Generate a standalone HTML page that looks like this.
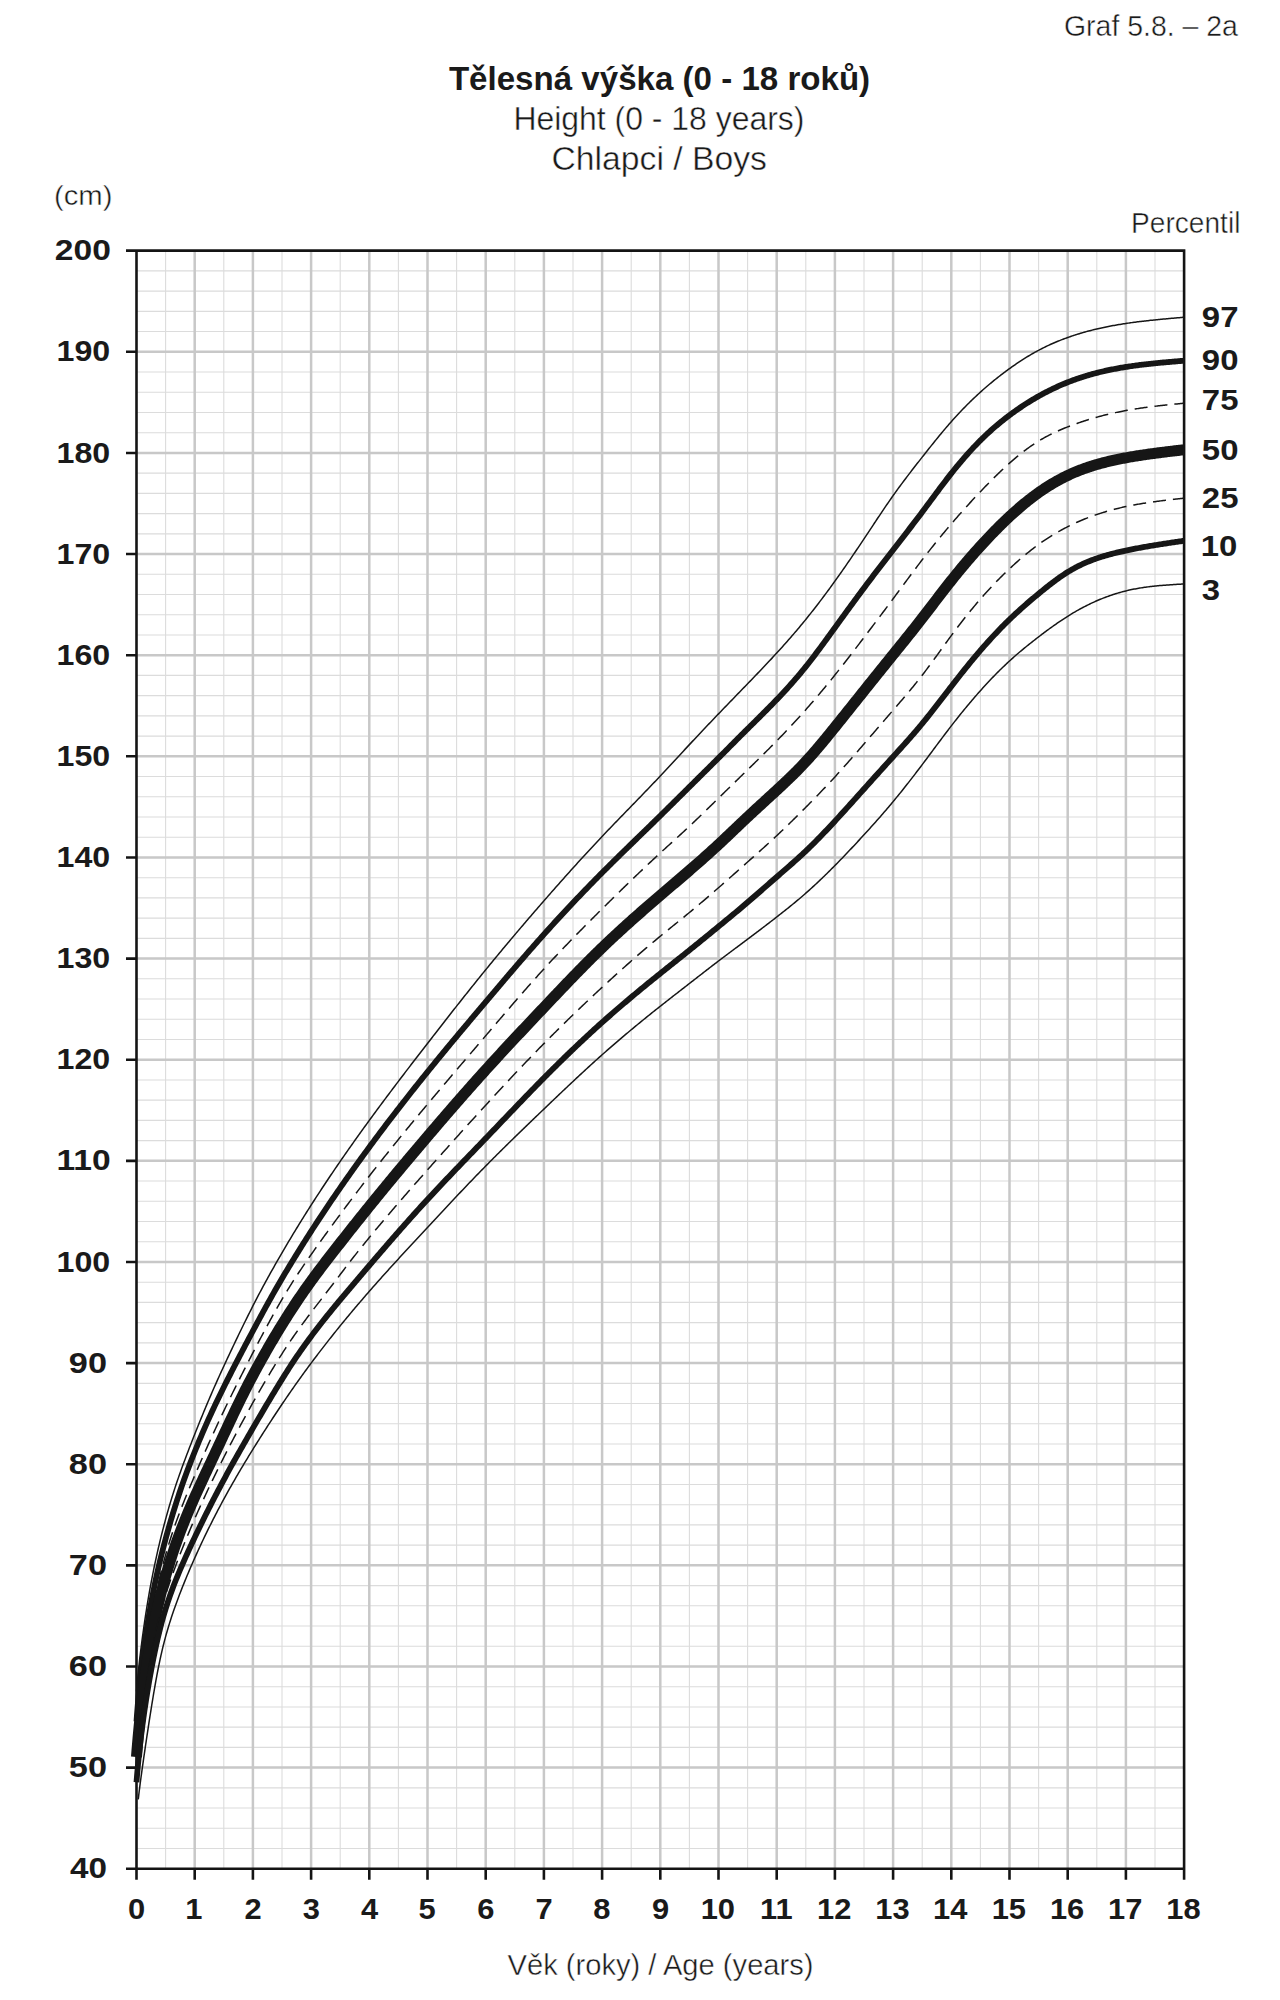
<!DOCTYPE html>
<html><head><meta charset="utf-8"><style>
html,body{margin:0;padding:0;background:#fff;}
body{width:1280px;height:2000px;overflow:hidden;font-family:"Liberation Sans",sans-serif;}
svg{display:block;}
</style></head><body>
<svg width="1280" height="2000" viewBox="0 0 1280 2000">
<rect width="1280" height="2000" fill="#fff"/>
<path d="M165.60 250.67V1868.75M223.80 250.67V1868.75M282.00 250.67V1868.75M340.20 250.67V1868.75M398.40 250.67V1868.75M456.60 250.67V1868.75M514.80 250.67V1868.75M573.00 250.67V1868.75M631.20 250.67V1868.75M689.40 250.67V1868.75M747.60 250.67V1868.75M805.80 250.67V1868.75M864.00 250.67V1868.75M922.20 250.67V1868.75M980.40 250.67V1868.75M1038.60 250.67V1868.75M1096.80 250.67V1868.75M1155.00 250.67V1868.75M136.50 1848.52H1184.10M136.50 1828.30H1184.10M136.50 1808.07H1184.10M136.50 1787.85H1184.10M136.50 1747.39H1184.10M136.50 1727.17H1184.10M136.50 1706.94H1184.10M136.50 1686.72H1184.10M136.50 1646.26H1184.10M136.50 1626.04H1184.10M136.50 1605.81H1184.10M136.50 1585.59H1184.10M136.50 1545.13H1184.10M136.50 1524.91H1184.10M136.50 1504.68H1184.10M136.50 1484.46H1184.10M136.50 1444.00H1184.10M136.50 1423.78H1184.10M136.50 1403.55H1184.10M136.50 1383.33H1184.10M136.50 1342.87H1184.10M136.50 1322.65H1184.10M136.50 1302.42H1184.10M136.50 1282.20H1184.10M136.50 1241.74H1184.10M136.50 1221.52H1184.10M136.50 1201.29H1184.10M136.50 1181.07H1184.10M136.50 1140.61H1184.10M136.50 1120.39H1184.10M136.50 1100.16H1184.10M136.50 1079.94H1184.10M136.50 1039.48H1184.10M136.50 1019.26H1184.10M136.50 999.03H1184.10M136.50 978.81H1184.10M136.50 938.35H1184.10M136.50 918.13H1184.10M136.50 897.90H1184.10M136.50 877.68H1184.10M136.50 837.22H1184.10M136.50 817.00H1184.10M136.50 796.77H1184.10M136.50 776.55H1184.10M136.50 736.09H1184.10M136.50 715.87H1184.10M136.50 695.64H1184.10M136.50 675.42H1184.10M136.50 634.96H1184.10M136.50 614.74H1184.10M136.50 594.51H1184.10M136.50 574.29H1184.10M136.50 533.83H1184.10M136.50 513.61H1184.10M136.50 493.38H1184.10M136.50 473.16H1184.10M136.50 432.70H1184.10M136.50 412.48H1184.10M136.50 392.25H1184.10M136.50 372.03H1184.10M136.50 331.57H1184.10M136.50 311.35H1184.10M136.50 291.12H1184.10M136.50 270.90H1184.10" stroke="#dcdcdc" stroke-width="1.1" fill="none"/>
<path d="M194.70 250.67V1868.75M252.90 250.67V1868.75M311.10 250.67V1868.75M369.30 250.67V1868.75M427.50 250.67V1868.75M485.70 250.67V1868.75M543.90 250.67V1868.75M602.10 250.67V1868.75M660.30 250.67V1868.75M718.50 250.67V1868.75M776.70 250.67V1868.75M834.90 250.67V1868.75M893.10 250.67V1868.75M951.30 250.67V1868.75M1009.50 250.67V1868.75M1067.70 250.67V1868.75M1125.90 250.67V1868.75M136.50 1767.62H1184.10M136.50 1666.49H1184.10M136.50 1565.36H1184.10M136.50 1464.23H1184.10M136.50 1363.10H1184.10M136.50 1261.97H1184.10M136.50 1160.84H1184.10M136.50 1059.71H1184.10M136.50 958.58H1184.10M136.50 857.45H1184.10M136.50 756.32H1184.10M136.50 655.19H1184.10M136.50 554.06H1184.10M136.50 452.93H1184.10M136.50 351.80H1184.10" stroke="#c8c8c8" stroke-width="2.5" fill="none"/>
<path d="M126.00 250.67H1185.30M126.00 1868.75H1185.30M136.50 249.47V1869.95M1184.10 249.47V1869.95M126.00 1767.62H136.50M126.00 1666.49H136.50M126.00 1565.36H136.50M126.00 1464.23H136.50M126.00 1363.10H136.50M126.00 1261.97H136.50M126.00 1160.84H136.50M126.00 1059.71H136.50M126.00 958.58H136.50M126.00 857.45H136.50M126.00 756.32H136.50M126.00 655.19H136.50M126.00 554.06H136.50M126.00 452.93H136.50M126.00 351.80H136.50M136.50 1868.75V1879.75M194.70 1868.75V1879.75M252.90 1868.75V1879.75M311.10 1868.75V1879.75M369.30 1868.75V1879.75M427.50 1868.75V1879.75M485.70 1868.75V1879.75M543.90 1868.75V1879.75M602.10 1868.75V1879.75M660.30 1868.75V1879.75M718.50 1868.75V1879.75M776.70 1868.75V1879.75M834.90 1868.75V1879.75M893.10 1868.75V1879.75M951.30 1868.75V1879.75M1009.50 1868.75V1879.75M1067.70 1868.75V1879.75M1125.90 1868.75V1879.75M1184.10 1868.75V1879.75" stroke="#141414" stroke-width="2.6" fill="none"/>
<g fill="none" stroke="#161616" stroke-linejoin="round">
<path d="M136.50,1691.34 L136.99,1685.48 L137.49,1680.05 L137.98,1674.97 L138.47,1670.16 L138.97,1665.57 L139.46,1661.17 L139.95,1656.94 L140.45,1652.83 L140.94,1648.85 L141.43,1644.97 L141.93,1641.17 L142.42,1637.46 L142.91,1633.82 L143.41,1630.25 L143.90,1626.76 L144.39,1623.33 L144.88,1619.97 L145.38,1616.68 L145.87,1613.45 L146.36,1610.28 L146.86,1607.17 L147.35,1604.12 L147.84,1601.13 L148.34,1598.20 L148.83,1595.32 L149.32,1592.49 L149.82,1589.72 L150.31,1586.99 L150.80,1584.32 L151.30,1581.69 L151.79,1579.10 L152.28,1576.56 L152.78,1574.05 L153.27,1571.59 L153.76,1569.16 L154.26,1566.77 L154.75,1564.42 L155.24,1562.09 L155.74,1559.80 L156.23,1557.54 L156.72,1555.31 L157.22,1553.11 L157.71,1550.93 L158.20,1548.78 L158.69,1546.66 L159.19,1544.56 L159.68,1542.48 L160.17,1540.43 L160.67,1538.40 L161.16,1536.40 L161.65,1534.41 L162.15,1532.45 L162.64,1530.51 L163.13,1528.59 L163.63,1526.69 L164.12,1524.81 L164.61,1522.94 L165.11,1521.10 L165.60,1519.28 L166.18,1517.15 L167.28,1513.20 L168.38,1509.35 L169.48,1505.57 L170.57,1501.88 L171.67,1498.27 L172.77,1494.73 L173.87,1491.27 L174.96,1487.88 L176.06,1484.56 L177.16,1481.31 L178.26,1478.12 L179.35,1474.98 L180.45,1471.89 L181.55,1468.84 L182.65,1465.83 L183.75,1462.85 L184.84,1459.90 L185.94,1456.97 L187.04,1454.07 L188.14,1451.19 L189.23,1448.33 L190.33,1445.48 L191.43,1442.65 L192.53,1439.84 L193.62,1437.04 L194.72,1434.26 L195.82,1431.49 L196.92,1428.73 L198.02,1425.99 L199.11,1423.27 L200.21,1420.56 L201.31,1417.87 L202.41,1415.19 L203.50,1412.53 L204.60,1409.89 L205.70,1407.26 L206.80,1404.64 L207.89,1402.05 L208.99,1399.47 L210.09,1396.90 L211.19,1394.35 L212.29,1391.82 L213.38,1389.31 L214.48,1386.81 L215.58,1384.33 L216.68,1381.87 L217.77,1379.42 L218.87,1376.98 L219.97,1374.56 L221.07,1372.16 L222.16,1369.76 L223.26,1367.38 L224.36,1365.00 L225.46,1362.63 L226.56,1360.27 L227.65,1357.92 L228.75,1355.57 L229.85,1353.24 L230.95,1350.91 L232.04,1348.58 L233.14,1346.27 L234.24,1343.96 L235.34,1341.65 L236.43,1339.36 L237.53,1337.07 L238.63,1334.79 L239.73,1332.52 L240.83,1330.25 L241.92,1328.00 L243.02,1325.75 L244.12,1323.51 L245.22,1321.29 L246.31,1319.07 L247.41,1316.86 L248.51,1314.66 L249.61,1312.47 L250.70,1310.29 L251.80,1308.12 L252.90,1305.96 L254.06,1303.68 L255.23,1301.42 L256.39,1299.17 L257.56,1296.93 L258.72,1294.71 L259.88,1292.50 L261.05,1290.30 L262.21,1288.12 L263.38,1285.95 L264.54,1283.79 L265.70,1281.66 L266.87,1279.53 L268.03,1277.42 L269.20,1275.32 L270.36,1273.23 L271.52,1271.16 L272.69,1269.09 L273.85,1267.04 L275.02,1264.99 L276.18,1262.95 L277.34,1260.92 L278.51,1258.89 L279.67,1256.87 L280.84,1254.86 L282.00,1252.86 L283.16,1250.86 L284.33,1248.87 L285.49,1246.89 L286.66,1244.91 L287.82,1242.95 L288.98,1240.99 L290.15,1239.04 L291.31,1237.09 L292.48,1235.16 L293.64,1233.23 L294.80,1231.31 L295.97,1229.39 L297.13,1227.49 L298.30,1225.59 L299.46,1223.70 L300.62,1221.82 L301.79,1219.94 L302.95,1218.07 L304.12,1216.21 L305.28,1214.35 L306.44,1212.50 L307.61,1210.66 L308.77,1208.82 L309.94,1206.99 L311.10,1205.16 L312.26,1203.34 L313.43,1201.53 L314.59,1199.73 L315.76,1197.93 L316.92,1196.13 L318.08,1194.34 L319.25,1192.56 L320.41,1190.79 L321.58,1189.01 L322.74,1187.25 L323.90,1185.49 L325.07,1183.73 L326.23,1181.98 L327.40,1180.24 L328.56,1178.50 L329.72,1176.77 L330.89,1175.04 L332.05,1173.31 L333.22,1171.59 L334.38,1169.88 L335.54,1168.17 L336.71,1166.46 L337.87,1164.76 L339.04,1163.07 L340.20,1161.38 L341.36,1159.69 L342.53,1158.01 L343.69,1156.33 L344.86,1154.66 L346.02,1152.99 L347.18,1151.32 L348.35,1149.66 L349.51,1148.00 L350.68,1146.35 L351.84,1144.70 L353.00,1143.06 L354.17,1141.41 L355.33,1139.78 L356.50,1138.14 L357.66,1136.51 L358.82,1134.89 L359.99,1133.26 L361.15,1131.64 L362.32,1130.03 L363.48,1128.41 L364.64,1126.80 L365.81,1125.20 L366.97,1123.60 L368.14,1122.00 L369.30,1120.40 L370.46,1118.81 L371.63,1117.21 L372.79,1115.63 L373.96,1114.04 L375.12,1112.46 L376.28,1110.88 L377.45,1109.31 L378.61,1107.73 L379.78,1106.16 L380.94,1104.59 L382.10,1103.03 L383.27,1101.47 L384.43,1099.90 L385.60,1098.35 L386.76,1096.79 L387.92,1095.24 L389.09,1093.69 L390.25,1092.14 L391.42,1090.59 L392.58,1089.04 L393.74,1087.50 L394.91,1085.96 L396.07,1084.42 L397.24,1082.88 L398.40,1081.35 L399.56,1079.81 L400.73,1078.28 L401.89,1076.75 L403.06,1075.22 L404.22,1073.70 L405.38,1072.17 L406.55,1070.65 L407.71,1069.13 L408.88,1067.61 L410.04,1066.09 L411.20,1064.57 L412.37,1063.05 L413.53,1061.53 L414.70,1060.02 L415.86,1058.51 L417.02,1056.99 L418.19,1055.48 L419.35,1053.97 L420.52,1052.46 L421.68,1050.96 L422.84,1049.45 L424.01,1047.94 L425.17,1046.44 L426.34,1044.93 L427.50,1043.43 L428.66,1041.92 L429.83,1040.42 L430.99,1038.92 L432.16,1037.42 L433.32,1035.91 L434.48,1034.42 L435.65,1032.92 L436.81,1031.42 L437.98,1029.92 L439.14,1028.43 L440.30,1026.93 L441.47,1025.44 L442.63,1023.94 L443.80,1022.45 L444.96,1020.96 L446.12,1019.47 L447.29,1017.98 L448.45,1016.50 L449.62,1015.01 L450.78,1013.53 L451.94,1012.04 L453.11,1010.56 L454.27,1009.08 L455.44,1007.60 L456.60,1006.13 L457.76,1004.65 L458.93,1003.18 L460.09,1001.71 L461.26,1000.23 L462.42,998.77 L463.58,997.30 L464.75,995.83 L465.91,994.37 L467.08,992.91 L468.24,991.45 L469.40,989.99 L470.57,988.53 L471.73,987.08 L472.90,985.62 L474.06,984.17 L475.22,982.72 L476.39,981.28 L477.55,979.83 L478.72,978.39 L479.88,976.95 L481.04,975.51 L482.21,974.07 L483.37,972.64 L484.54,971.21 L485.70,969.78 L486.86,968.35 L488.03,966.93 L489.19,965.50 L490.36,964.08 L491.52,962.67 L492.68,961.25 L493.85,959.84 L495.01,958.42 L496.18,957.01 L497.34,955.61 L498.50,954.20 L499.67,952.80 L500.83,951.40 L502.00,950.00 L503.16,948.60 L504.32,947.21 L505.49,945.81 L506.65,944.42 L507.82,943.03 L508.98,941.65 L510.14,940.26 L511.31,938.88 L512.47,937.50 L513.64,936.12 L514.80,934.74 L515.96,933.37 L517.13,931.99 L518.29,930.62 L519.46,929.25 L520.62,927.88 L521.78,926.52 L522.95,925.15 L524.11,923.79 L525.28,922.43 L526.44,921.07 L527.60,919.71 L528.77,918.35 L529.93,917.00 L531.10,915.65 L532.26,914.29 L533.42,912.94 L534.59,911.60 L535.75,910.25 L536.92,908.90 L538.08,907.56 L539.24,906.22 L540.41,904.88 L541.57,903.54 L542.74,902.20 L543.90,900.87 L545.06,899.53 L546.23,898.20 L547.39,896.87 L548.56,895.54 L549.72,894.21 L550.88,892.88 L552.05,891.56 L553.21,890.23 L554.38,888.91 L555.54,887.59 L556.70,886.27 L557.87,884.95 L559.03,883.64 L560.20,882.33 L561.36,881.01 L562.52,879.70 L563.69,878.40 L564.85,877.09 L566.02,875.79 L567.18,874.49 L568.34,873.19 L569.51,871.89 L570.67,870.59 L571.84,869.30 L573.00,868.01 L574.16,866.72 L575.33,865.43 L576.49,864.14 L577.66,862.86 L578.82,861.58 L579.98,860.30 L581.15,859.02 L582.31,857.75 L583.48,856.48 L584.64,855.21 L585.80,853.94 L586.97,852.68 L588.13,851.42 L589.30,850.16 L590.46,848.90 L591.62,847.64 L592.79,846.39 L593.95,845.14 L595.12,843.90 L596.28,842.65 L597.44,841.41 L598.61,840.17 L599.77,838.93 L600.94,837.70 L602.10,836.47 L603.26,835.24 L604.43,834.01 L605.59,832.79 L606.76,831.57 L607.92,830.35 L609.08,829.14 L610.25,827.92 L611.41,826.71 L612.58,825.50 L613.74,824.29 L614.90,823.08 L616.07,821.88 L617.23,820.67 L618.40,819.47 L619.56,818.27 L620.72,817.06 L621.89,815.86 L623.05,814.66 L624.22,813.46 L625.38,812.27 L626.54,811.07 L627.71,809.87 L628.87,808.67 L630.04,807.47 L631.20,806.27 L632.36,805.08 L633.53,803.88 L634.69,802.68 L635.86,801.48 L637.02,800.28 L638.18,799.08 L639.35,797.88 L640.51,796.67 L641.68,795.47 L642.84,794.27 L644.00,793.06 L645.17,791.85 L646.33,790.64 L647.50,789.43 L648.66,788.22 L649.82,787.00 L650.99,785.79 L652.15,784.57 L653.32,783.35 L654.48,782.13 L655.64,780.90 L656.81,779.67 L657.97,778.44 L659.14,777.21 L660.30,775.97 L661.46,774.73 L662.63,773.49 L663.79,772.25 L664.96,771.00 L666.12,769.75 L667.28,768.50 L668.45,767.25 L669.61,765.99 L670.78,764.74 L671.94,763.48 L673.10,762.22 L674.27,760.96 L675.43,759.70 L676.60,758.44 L677.76,757.18 L678.92,755.92 L680.09,754.66 L681.25,753.41 L682.42,752.15 L683.58,750.89 L684.74,749.63 L685.91,748.38 L687.07,747.12 L688.24,745.87 L689.40,744.62 L690.56,743.37 L691.73,742.12 L692.89,740.88 L694.06,739.64 L695.22,738.39 L696.38,737.16 L697.55,735.92 L698.71,734.68 L699.88,733.45 L701.04,732.21 L702.20,730.98 L703.37,729.75 L704.53,728.52 L705.70,727.30 L706.86,726.07 L708.02,724.85 L709.19,723.63 L710.35,722.41 L711.52,721.19 L712.68,719.97 L713.84,718.75 L715.01,717.53 L716.17,716.32 L717.34,715.10 L718.50,713.89 L719.66,712.68 L720.83,711.47 L721.99,710.26 L723.16,709.05 L724.32,707.84 L725.48,706.64 L726.65,705.43 L727.81,704.22 L728.98,703.02 L730.14,701.81 L731.30,700.61 L732.47,699.40 L733.63,698.20 L734.80,697.00 L735.96,695.80 L737.12,694.59 L738.29,693.39 L739.45,692.19 L740.62,690.98 L741.78,689.78 L742.94,688.58 L744.11,687.38 L745.27,686.17 L746.44,684.97 L747.60,683.77 L748.76,682.56 L749.93,681.36 L751.09,680.15 L752.26,678.94 L753.42,677.74 L754.58,676.53 L755.75,675.32 L756.91,674.11 L758.08,672.89 L759.24,671.68 L760.40,670.46 L761.57,669.24 L762.73,668.01 L763.90,666.79 L765.06,665.56 L766.22,664.33 L767.39,663.09 L768.55,661.85 L769.72,660.61 L770.88,659.37 L772.04,658.12 L773.21,656.86 L774.37,655.60 L775.54,654.34 L776.70,653.07 L777.86,651.80 L779.03,650.52 L780.19,649.23 L781.36,647.95 L782.52,646.65 L783.68,645.35 L784.85,644.05 L786.01,642.74 L787.18,641.42 L788.34,640.09 L789.50,638.77 L790.67,637.43 L791.83,636.09 L793.00,634.74 L794.16,633.38 L795.32,632.02 L796.49,630.65 L797.65,629.27 L798.82,627.89 L799.98,626.50 L801.14,625.10 L802.31,623.69 L803.47,622.28 L804.64,620.86 L805.80,619.43 L806.96,617.99 L808.13,616.54 L809.29,615.09 L810.46,613.63 L811.62,612.16 L812.78,610.68 L813.95,609.19 L815.11,607.70 L816.28,606.20 L817.44,604.69 L818.60,603.17 L819.77,601.65 L820.93,600.12 L822.10,598.58 L823.26,597.03 L824.42,595.48 L825.59,593.92 L826.75,592.35 L827.92,590.77 L829.08,589.19 L830.24,587.60 L831.41,586.00 L832.57,584.40 L833.74,582.79 L834.90,581.17 L836.06,579.54 L837.23,577.91 L838.39,576.28 L839.56,574.63 L840.72,572.98 L841.88,571.32 L843.05,569.66 L844.21,567.99 L845.38,566.32 L846.54,564.64 L847.70,562.95 L848.87,561.26 L850.03,559.56 L851.20,557.86 L852.36,556.15 L853.52,554.44 L854.69,552.73 L855.85,551.01 L857.02,549.28 L858.18,547.55 L859.34,545.82 L860.51,544.08 L861.67,542.34 L862.84,540.60 L864.00,538.85 L865.16,537.10 L866.33,535.35 L867.49,533.59 L868.66,531.83 L869.82,530.07 L870.98,528.31 L872.15,526.55 L873.31,524.80 L874.48,523.04 L875.64,521.29 L876.80,519.53 L877.97,517.79 L879.13,516.04 L880.30,514.30 L881.46,512.57 L882.62,510.84 L883.79,509.12 L884.95,507.40 L886.12,505.69 L887.28,503.99 L888.44,502.30 L889.61,500.62 L890.77,498.95 L891.94,497.29 L893.10,495.64 L894.26,494.00 L895.43,492.38 L896.59,490.76 L897.76,489.16 L898.92,487.56 L900.08,485.98 L901.25,484.40 L902.41,482.83 L903.58,481.28 L904.74,479.73 L905.90,478.18 L907.07,476.65 L908.23,475.12 L909.40,473.60 L910.56,472.08 L911.72,470.57 L912.89,469.06 L914.05,467.56 L915.22,466.06 L916.38,464.57 L917.54,463.08 L918.71,461.60 L919.87,460.11 L921.04,458.63 L922.20,457.15 L923.36,455.67 L924.53,454.19 L925.69,452.72 L926.86,451.25 L928.02,449.78 L929.18,448.31 L930.35,446.85 L931.51,445.39 L932.68,443.94 L933.84,442.49 L935.00,441.05 L936.17,439.62 L937.33,438.19 L938.50,436.76 L939.66,435.35 L940.82,433.94 L941.99,432.54 L943.15,431.14 L944.32,429.76 L945.48,428.39 L946.64,427.02 L947.81,425.67 L948.97,424.32 L950.14,422.99 L951.30,421.67 L952.46,420.35 L953.63,419.05 L954.79,417.77 L955.96,416.49 L957.12,415.22 L958.28,413.97 L959.45,412.73 L960.61,411.49 L961.78,410.27 L962.94,409.06 L964.10,407.86 L965.27,406.67 L966.43,405.49 L967.60,404.32 L968.76,403.17 L969.92,402.02 L971.09,400.88 L972.25,399.76 L973.42,398.64 L974.58,397.53 L975.74,396.43 L976.91,395.35 L978.07,394.27 L979.24,393.20 L980.40,392.15 L981.56,391.10 L982.73,390.06 L983.89,389.03 L985.06,388.01 L986.22,387.00 L987.38,386.00 L988.55,385.01 L989.71,384.02 L990.88,383.05 L992.04,382.08 L993.20,381.13 L994.37,380.18 L995.53,379.24 L996.70,378.31 L997.86,377.39 L999.02,376.47 L1000.19,375.57 L1001.35,374.67 L1002.52,373.78 L1003.68,372.90 L1004.84,372.03 L1006.01,371.16 L1007.17,370.30 L1008.34,369.45 L1009.50,368.61 L1010.66,367.78 L1011.83,366.95 L1012.99,366.14 L1014.16,365.32 L1015.32,364.52 L1016.48,363.73 L1017.65,362.94 L1018.81,362.16 L1019.98,361.39 L1021.14,360.63 L1022.30,359.88 L1023.47,359.14 L1024.63,358.40 L1025.80,357.67 L1026.96,356.96 L1028.12,356.25 L1029.29,355.55 L1030.45,354.86 L1031.62,354.18 L1032.78,353.50 L1033.94,352.84 L1035.11,352.19 L1036.27,351.54 L1037.44,350.91 L1038.60,350.29 L1039.76,349.67 L1040.93,349.07 L1042.09,348.47 L1043.26,347.88 L1044.42,347.31 L1045.58,346.74 L1046.75,346.18 L1047.91,345.63 L1049.08,345.09 L1050.24,344.55 L1051.40,344.03 L1052.57,343.51 L1053.73,343.01 L1054.90,342.51 L1056.06,342.02 L1057.22,341.53 L1058.39,341.06 L1059.55,340.59 L1060.72,340.13 L1061.88,339.67 L1063.04,339.23 L1064.21,338.79 L1065.37,338.35 L1066.54,337.93 L1067.70,337.51 L1068.86,337.10 L1070.03,336.69 L1071.19,336.29 L1072.36,335.90 L1073.52,335.51 L1074.68,335.13 L1075.85,334.76 L1077.01,334.39 L1078.18,334.03 L1079.34,333.67 L1080.50,333.32 L1081.67,332.98 L1082.83,332.64 L1084.00,332.30 L1085.16,331.98 L1086.32,331.65 L1087.49,331.34 L1088.65,331.03 L1089.82,330.72 L1090.98,330.42 L1092.14,330.12 L1093.31,329.83 L1094.47,329.55 L1095.64,329.26 L1096.80,328.99 L1097.96,328.72 L1099.13,328.45 L1100.29,328.19 L1101.46,327.93 L1102.62,327.68 L1103.78,327.43 L1104.95,327.19 L1106.11,326.95 L1107.28,326.71 L1108.44,326.48 L1109.60,326.25 L1110.77,326.03 L1111.93,325.81 L1113.10,325.60 L1114.26,325.39 L1115.42,325.18 L1116.59,324.98 L1117.75,324.78 L1118.92,324.58 L1120.08,324.39 L1121.24,324.20 L1122.41,324.01 L1123.57,323.83 L1124.74,323.65 L1125.90,323.47 L1127.06,323.30 L1128.23,323.13 L1129.39,322.96 L1130.56,322.79 L1131.72,322.63 L1132.88,322.47 L1134.05,322.32 L1135.21,322.16 L1136.38,322.01 L1137.54,321.86 L1138.70,321.72 L1139.87,321.57 L1141.03,321.43 L1142.20,321.29 L1143.36,321.15 L1144.52,321.02 L1145.69,320.89 L1146.85,320.75 L1148.02,320.63 L1149.18,320.50 L1150.34,320.37 L1151.51,320.25 L1152.67,320.13 L1153.84,320.01 L1155.00,319.89 L1156.16,319.77 L1157.33,319.66 L1158.49,319.54 L1159.66,319.43 L1160.82,319.32 L1161.98,319.21 L1163.15,319.10 L1164.31,318.99 L1165.48,318.88 L1166.64,318.78 L1167.80,318.67 L1168.97,318.57 L1170.13,318.47 L1171.30,318.36 L1172.46,318.26 L1173.62,318.16 L1174.79,318.06 L1175.95,317.96 L1177.12,317.86 L1178.28,317.76 L1179.44,317.66 L1180.61,317.56 L1181.77,317.46 L1182.94,317.36 L1184.10,317.26" stroke-width="1.5"/>
<path d="M136.50,1721.35 L136.99,1714.61 L137.49,1708.37 L137.98,1702.53 L138.47,1697.01 L138.97,1691.77 L139.46,1686.76 L139.95,1681.96 L140.45,1677.34 L140.94,1672.88 L141.43,1668.56 L141.93,1664.38 L142.42,1660.33 L142.91,1656.38 L143.41,1652.55 L143.90,1648.81 L144.39,1645.17 L144.88,1641.62 L145.38,1638.15 L145.87,1634.77 L146.36,1631.46 L146.86,1628.23 L147.35,1625.07 L147.84,1621.98 L148.34,1618.95 L148.83,1615.98 L149.32,1613.08 L149.82,1610.23 L150.31,1607.43 L150.80,1604.69 L151.30,1601.99 L151.79,1599.35 L152.28,1596.75 L152.78,1594.19 L153.27,1591.67 L153.76,1589.20 L154.26,1586.76 L154.75,1584.36 L155.24,1582.00 L155.74,1579.68 L156.23,1577.39 L156.72,1575.13 L157.22,1572.90 L157.71,1570.71 L158.20,1568.55 L158.69,1566.41 L159.19,1564.31 L159.68,1562.23 L160.17,1560.18 L160.67,1558.15 L161.16,1556.15 L161.65,1554.17 L162.15,1552.21 L162.64,1550.27 L163.13,1548.35 L163.63,1546.45 L164.12,1544.56 L164.61,1542.69 L165.11,1540.84 L165.60,1539.00 L166.18,1536.85 L167.28,1532.86 L168.38,1528.93 L169.48,1525.08 L170.57,1521.29 L171.67,1517.56 L172.77,1513.91 L173.87,1510.31 L174.96,1506.78 L176.06,1503.30 L177.16,1499.89 L178.26,1496.53 L179.35,1493.23 L180.45,1489.98 L181.55,1486.79 L182.65,1483.65 L183.75,1480.56 L184.84,1477.52 L185.94,1474.52 L187.04,1471.57 L188.14,1468.64 L189.23,1465.75 L190.33,1462.89 L191.43,1460.06 L192.53,1457.25 L193.62,1454.47 L194.72,1451.72 L195.82,1448.99 L196.92,1446.29 L198.02,1443.62 L199.11,1440.98 L200.21,1438.36 L201.31,1435.77 L202.41,1433.20 L203.50,1430.65 L204.60,1428.13 L205.70,1425.64 L206.80,1423.16 L207.89,1420.70 L208.99,1418.27 L210.09,1415.85 L211.19,1413.46 L212.29,1411.08 L213.38,1408.72 L214.48,1406.38 L215.58,1404.05 L216.68,1401.74 L217.77,1399.44 L218.87,1397.16 L219.97,1394.90 L221.07,1392.65 L222.16,1390.41 L223.26,1388.18 L224.36,1385.97 L225.46,1383.77 L226.56,1381.58 L227.65,1379.40 L228.75,1377.24 L229.85,1375.08 L230.95,1372.93 L232.04,1370.79 L233.14,1368.65 L234.24,1366.52 L235.34,1364.40 L236.43,1362.28 L237.53,1360.17 L238.63,1358.06 L239.73,1355.95 L240.83,1353.85 L241.92,1351.75 L243.02,1349.65 L244.12,1347.56 L245.22,1345.47 L246.31,1343.39 L247.41,1341.30 L248.51,1339.22 L249.61,1337.14 L250.70,1335.07 L251.80,1333.00 L252.90,1330.93 L254.06,1328.75 L255.23,1326.56 L256.39,1324.39 L257.56,1322.22 L258.72,1320.05 L259.88,1317.89 L261.05,1315.74 L262.21,1313.60 L263.38,1311.46 L264.54,1309.33 L265.70,1307.21 L266.87,1305.09 L268.03,1302.99 L269.20,1300.89 L270.36,1298.81 L271.52,1296.73 L272.69,1294.66 L273.85,1292.60 L275.02,1290.55 L276.18,1288.52 L277.34,1286.49 L278.51,1284.47 L279.67,1282.47 L280.84,1280.47 L282.00,1278.49 L283.16,1276.52 L284.33,1274.56 L285.49,1272.60 L286.66,1270.66 L287.82,1268.72 L288.98,1266.79 L290.15,1264.87 L291.31,1262.96 L292.48,1261.05 L293.64,1259.15 L294.80,1257.25 L295.97,1255.36 L297.13,1253.48 L298.30,1251.60 L299.46,1249.73 L300.62,1247.86 L301.79,1246.00 L302.95,1244.15 L304.12,1242.30 L305.28,1240.46 L306.44,1238.63 L307.61,1236.80 L308.77,1234.98 L309.94,1233.16 L311.10,1231.35 L312.26,1229.55 L313.43,1227.75 L314.59,1225.95 L315.76,1224.17 L316.92,1222.39 L318.08,1220.61 L319.25,1218.84 L320.41,1217.08 L321.58,1215.32 L322.74,1213.56 L323.90,1211.81 L325.07,1210.07 L326.23,1208.33 L327.40,1206.60 L328.56,1204.87 L329.72,1203.15 L330.89,1201.43 L332.05,1199.72 L333.22,1198.01 L334.38,1196.30 L335.54,1194.60 L336.71,1192.91 L337.87,1191.22 L339.04,1189.54 L340.20,1187.85 L341.36,1186.18 L342.53,1184.51 L343.69,1182.84 L344.86,1181.18 L346.02,1179.52 L347.18,1177.86 L348.35,1176.21 L349.51,1174.57 L350.68,1172.92 L351.84,1171.29 L353.00,1169.65 L354.17,1168.02 L355.33,1166.40 L356.50,1164.77 L357.66,1163.16 L358.82,1161.54 L359.99,1159.93 L361.15,1158.32 L362.32,1156.72 L363.48,1155.12 L364.64,1153.52 L365.81,1151.93 L366.97,1150.34 L368.14,1148.75 L369.30,1147.17 L370.46,1145.59 L371.63,1144.02 L372.79,1142.45 L373.96,1140.88 L375.12,1139.31 L376.28,1137.75 L377.45,1136.19 L378.61,1134.63 L379.78,1133.08 L380.94,1131.53 L382.10,1129.98 L383.27,1128.44 L384.43,1126.90 L385.60,1125.36 L386.76,1123.83 L387.92,1122.30 L389.09,1120.77 L390.25,1119.24 L391.42,1117.72 L392.58,1116.20 L393.74,1114.69 L394.91,1113.17 L396.07,1111.66 L397.24,1110.15 L398.40,1108.65 L399.56,1107.15 L400.73,1105.65 L401.89,1104.15 L403.06,1102.66 L404.22,1101.17 L405.38,1099.68 L406.55,1098.19 L407.71,1096.71 L408.88,1095.23 L410.04,1093.75 L411.20,1092.28 L412.37,1090.80 L413.53,1089.33 L414.70,1087.87 L415.86,1086.40 L417.02,1084.94 L418.19,1083.48 L419.35,1082.02 L420.52,1080.57 L421.68,1079.12 L422.84,1077.67 L424.01,1076.22 L425.17,1074.77 L426.34,1073.33 L427.50,1071.89 L428.66,1070.45 L429.83,1069.02 L430.99,1067.58 L432.16,1066.15 L433.32,1064.72 L434.48,1063.30 L435.65,1061.87 L436.81,1060.45 L437.98,1059.03 L439.14,1057.61 L440.30,1056.19 L441.47,1054.78 L442.63,1053.36 L443.80,1051.95 L444.96,1050.54 L446.12,1049.13 L447.29,1047.73 L448.45,1046.32 L449.62,1044.92 L450.78,1043.52 L451.94,1042.12 L453.11,1040.72 L454.27,1039.32 L455.44,1037.92 L456.60,1036.53 L457.76,1035.13 L458.93,1033.74 L460.09,1032.35 L461.26,1030.96 L462.42,1029.57 L463.58,1028.18 L464.75,1026.79 L465.91,1025.40 L467.08,1024.02 L468.24,1022.63 L469.40,1021.25 L470.57,1019.86 L471.73,1018.48 L472.90,1017.10 L474.06,1015.72 L475.22,1014.33 L476.39,1012.95 L477.55,1011.57 L478.72,1010.19 L479.88,1008.81 L481.04,1007.43 L482.21,1006.06 L483.37,1004.68 L484.54,1003.30 L485.70,1001.92 L486.86,1000.54 L488.03,999.17 L489.19,997.79 L490.36,996.41 L491.52,995.04 L492.68,993.66 L493.85,992.28 L495.01,990.91 L496.18,989.54 L497.34,988.16 L498.50,986.79 L499.67,985.42 L500.83,984.05 L502.00,982.68 L503.16,981.31 L504.32,979.94 L505.49,978.57 L506.65,977.20 L507.82,975.84 L508.98,974.48 L510.14,973.11 L511.31,971.75 L512.47,970.39 L513.64,969.03 L514.80,967.68 L515.96,966.32 L517.13,964.97 L518.29,963.62 L519.46,962.27 L520.62,960.92 L521.78,959.57 L522.95,958.23 L524.11,956.89 L525.28,955.54 L526.44,954.21 L527.60,952.87 L528.77,951.53 L529.93,950.20 L531.10,948.87 L532.26,947.54 L533.42,946.22 L534.59,944.90 L535.75,943.58 L536.92,942.26 L538.08,940.94 L539.24,939.63 L540.41,938.32 L541.57,937.01 L542.74,935.71 L543.90,934.40 L545.06,933.11 L546.23,931.81 L547.39,930.52 L548.56,929.22 L549.72,927.94 L550.88,926.65 L552.05,925.37 L553.21,924.09 L554.38,922.81 L555.54,921.54 L556.70,920.27 L557.87,919.00 L559.03,917.73 L560.20,916.47 L561.36,915.21 L562.52,913.95 L563.69,912.70 L564.85,911.45 L566.02,910.20 L567.18,908.95 L568.34,907.70 L569.51,906.46 L570.67,905.22 L571.84,903.99 L573.00,902.75 L574.16,901.52 L575.33,900.29 L576.49,899.07 L577.66,897.85 L578.82,896.63 L579.98,895.41 L581.15,894.19 L582.31,892.98 L583.48,891.77 L584.64,890.56 L585.80,889.36 L586.97,888.15 L588.13,886.95 L589.30,885.76 L590.46,884.56 L591.62,883.37 L592.79,882.18 L593.95,880.99 L595.12,879.81 L596.28,878.62 L597.44,877.44 L598.61,876.27 L599.77,875.09 L600.94,873.92 L602.10,872.75 L603.26,871.58 L604.43,870.41 L605.59,869.25 L606.76,868.09 L607.92,866.93 L609.08,865.77 L610.25,864.62 L611.41,863.47 L612.58,862.31 L613.74,861.17 L614.90,860.02 L616.07,858.87 L617.23,857.73 L618.40,856.58 L619.56,855.44 L620.72,854.30 L621.89,853.16 L623.05,852.02 L624.22,850.88 L625.38,849.75 L626.54,848.61 L627.71,847.48 L628.87,846.34 L630.04,845.21 L631.20,844.08 L632.36,842.94 L633.53,841.81 L634.69,840.68 L635.86,839.55 L637.02,838.42 L638.18,837.29 L639.35,836.16 L640.51,835.03 L641.68,833.89 L642.84,832.76 L644.00,831.63 L645.17,830.50 L646.33,829.37 L647.50,828.23 L648.66,827.10 L649.82,825.97 L650.99,824.83 L652.15,823.70 L653.32,822.56 L654.48,821.42 L655.64,820.29 L656.81,819.15 L657.97,818.01 L659.14,816.87 L660.30,815.72 L661.46,814.58 L662.63,813.43 L663.79,812.29 L664.96,811.14 L666.12,809.99 L667.28,808.84 L668.45,807.69 L669.61,806.54 L670.78,805.39 L671.94,804.23 L673.10,803.08 L674.27,801.93 L675.43,800.77 L676.60,799.62 L677.76,798.46 L678.92,797.31 L680.09,796.15 L681.25,795.00 L682.42,793.84 L683.58,792.68 L684.74,791.53 L685.91,790.37 L687.07,789.22 L688.24,788.06 L689.40,786.91 L690.56,785.75 L691.73,784.60 L692.89,783.44 L694.06,782.29 L695.22,781.14 L696.38,779.98 L697.55,778.83 L698.71,777.68 L699.88,776.52 L701.04,775.37 L702.20,774.22 L703.37,773.06 L704.53,771.91 L705.70,770.75 L706.86,769.60 L708.02,768.44 L709.19,767.29 L710.35,766.13 L711.52,764.97 L712.68,763.81 L713.84,762.65 L715.01,761.49 L716.17,760.33 L717.34,759.17 L718.50,758.01 L719.66,756.84 L720.83,755.68 L721.99,754.51 L723.16,753.34 L724.32,752.18 L725.48,751.01 L726.65,749.84 L727.81,748.67 L728.98,747.50 L730.14,746.33 L731.30,745.16 L732.47,743.99 L733.63,742.83 L734.80,741.66 L735.96,740.49 L737.12,739.32 L738.29,738.15 L739.45,736.99 L740.62,735.82 L741.78,734.66 L742.94,733.50 L744.11,732.33 L745.27,731.17 L746.44,730.01 L747.60,728.86 L748.76,727.70 L749.93,726.55 L751.09,725.39 L752.26,724.24 L753.42,723.09 L754.58,721.93 L755.75,720.78 L756.91,719.63 L758.08,718.47 L759.24,717.32 L760.40,716.16 L761.57,715.00 L762.73,713.84 L763.90,712.68 L765.06,711.51 L766.22,710.34 L767.39,709.17 L768.55,707.99 L769.72,706.81 L770.88,705.63 L772.04,704.44 L773.21,703.24 L774.37,702.04 L775.54,700.84 L776.70,699.63 L777.86,698.41 L779.03,697.19 L780.19,695.96 L781.36,694.72 L782.52,693.48 L783.68,692.23 L784.85,690.97 L786.01,689.70 L787.18,688.42 L788.34,687.14 L789.50,685.84 L790.67,684.54 L791.83,683.23 L793.00,681.91 L794.16,680.58 L795.32,679.23 L796.49,677.88 L797.65,676.52 L798.82,675.14 L799.98,673.76 L801.14,672.36 L802.31,670.95 L803.47,669.53 L804.64,668.10 L805.80,666.65 L806.96,665.19 L808.13,663.72 L809.29,662.24 L810.46,660.74 L811.62,659.24 L812.78,657.72 L813.95,656.20 L815.11,654.66 L816.28,653.12 L817.44,651.57 L818.60,650.01 L819.77,648.44 L820.93,646.87 L822.10,645.29 L823.26,643.71 L824.42,642.12 L825.59,640.53 L826.75,638.93 L827.92,637.33 L829.08,635.73 L830.24,634.13 L831.41,632.52 L832.57,630.91 L833.74,629.30 L834.90,627.70 L836.06,626.09 L837.23,624.48 L838.39,622.87 L839.56,621.27 L840.72,619.66 L841.88,618.06 L843.05,616.46 L844.21,614.85 L845.38,613.25 L846.54,611.66 L847.70,610.06 L848.87,608.47 L850.03,606.87 L851.20,605.28 L852.36,603.69 L853.52,602.11 L854.69,600.52 L855.85,598.94 L857.02,597.36 L858.18,595.79 L859.34,594.22 L860.51,592.65 L861.67,591.08 L862.84,589.52 L864.00,587.96 L865.16,586.41 L866.33,584.86 L867.49,583.31 L868.66,581.76 L869.82,580.22 L870.98,578.68 L872.15,577.15 L873.31,575.62 L874.48,574.09 L875.64,572.56 L876.80,571.04 L877.97,569.52 L879.13,568.00 L880.30,566.48 L881.46,564.96 L882.62,563.45 L883.79,561.94 L884.95,560.43 L886.12,558.92 L887.28,557.42 L888.44,555.91 L889.61,554.41 L890.77,552.91 L891.94,551.41 L893.10,549.91 L894.26,548.41 L895.43,546.91 L896.59,545.41 L897.76,543.92 L898.92,542.42 L900.08,540.92 L901.25,539.42 L902.41,537.92 L903.58,536.42 L904.74,534.92 L905.90,533.42 L907.07,531.91 L908.23,530.41 L909.40,528.90 L910.56,527.39 L911.72,525.87 L912.89,524.35 L914.05,522.83 L915.22,521.31 L916.38,519.78 L917.54,518.25 L918.71,516.71 L919.87,515.17 L921.04,513.63 L922.20,512.08 L923.36,510.53 L924.53,508.97 L925.69,507.40 L926.86,505.84 L928.02,504.27 L929.18,502.70 L930.35,501.13 L931.51,499.56 L932.68,497.99 L933.84,496.42 L935.00,494.85 L936.17,493.28 L937.33,491.72 L938.50,490.16 L939.66,488.60 L940.82,487.05 L941.99,485.50 L943.15,483.96 L944.32,482.43 L945.48,480.90 L946.64,479.39 L947.81,477.88 L948.97,476.38 L950.14,474.89 L951.30,473.41 L952.46,471.95 L953.63,470.49 L954.79,469.05 L955.96,467.62 L957.12,466.19 L958.28,464.79 L959.45,463.39 L960.61,462.01 L961.78,460.63 L962.94,459.27 L964.10,457.92 L965.27,456.59 L966.43,455.27 L967.60,453.96 L968.76,452.66 L969.92,451.37 L971.09,450.10 L972.25,448.84 L973.42,447.60 L974.58,446.36 L975.74,445.14 L976.91,443.94 L978.07,442.74 L979.24,441.56 L980.40,440.40 L981.56,439.25 L982.73,438.11 L983.89,436.98 L985.06,435.87 L986.22,434.77 L987.38,433.68 L988.55,432.61 L989.71,431.55 L990.88,430.50 L992.04,429.46 L993.20,428.44 L994.37,427.42 L995.53,426.42 L996.70,425.43 L997.86,424.45 L999.02,423.48 L1000.19,422.53 L1001.35,421.58 L1002.52,420.64 L1003.68,419.72 L1004.84,418.80 L1006.01,417.90 L1007.17,417.00 L1008.34,416.11 L1009.50,415.24 L1010.66,414.37 L1011.83,413.51 L1012.99,412.66 L1014.16,411.82 L1015.32,410.99 L1016.48,410.17 L1017.65,409.36 L1018.81,408.56 L1019.98,407.76 L1021.14,406.98 L1022.30,406.20 L1023.47,405.43 L1024.63,404.67 L1025.80,403.92 L1026.96,403.18 L1028.12,402.45 L1029.29,401.72 L1030.45,401.00 L1031.62,400.30 L1032.78,399.60 L1033.94,398.90 L1035.11,398.22 L1036.27,397.55 L1037.44,396.88 L1038.60,396.22 L1039.76,395.57 L1040.93,394.92 L1042.09,394.29 L1043.26,393.66 L1044.42,393.04 L1045.58,392.43 L1046.75,391.83 L1047.91,391.23 L1049.08,390.64 L1050.24,390.06 L1051.40,389.49 L1052.57,388.93 L1053.73,388.37 L1054.90,387.82 L1056.06,387.28 L1057.22,386.75 L1058.39,386.22 L1059.55,385.70 L1060.72,385.19 L1061.88,384.69 L1063.04,384.19 L1064.21,383.71 L1065.37,383.22 L1066.54,382.75 L1067.70,382.29 L1068.86,381.83 L1070.03,381.38 L1071.19,380.94 L1072.36,380.50 L1073.52,380.07 L1074.68,379.65 L1075.85,379.24 L1077.01,378.83 L1078.18,378.43 L1079.34,378.04 L1080.50,377.65 L1081.67,377.27 L1082.83,376.90 L1084.00,376.53 L1085.16,376.17 L1086.32,375.81 L1087.49,375.47 L1088.65,375.12 L1089.82,374.79 L1090.98,374.46 L1092.14,374.13 L1093.31,373.82 L1094.47,373.50 L1095.64,373.20 L1096.80,372.89 L1097.96,372.60 L1099.13,372.31 L1100.29,372.02 L1101.46,371.74 L1102.62,371.47 L1103.78,371.20 L1104.95,370.94 L1106.11,370.68 L1107.28,370.42 L1108.44,370.18 L1109.60,369.93 L1110.77,369.69 L1111.93,369.46 L1113.10,369.22 L1114.26,369.00 L1115.42,368.78 L1116.59,368.56 L1117.75,368.34 L1118.92,368.14 L1120.08,367.93 L1121.24,367.73 L1122.41,367.53 L1123.57,367.34 L1124.74,367.15 L1125.90,366.96 L1127.06,366.78 L1128.23,366.60 L1129.39,366.42 L1130.56,366.25 L1131.72,366.08 L1132.88,365.92 L1134.05,365.75 L1135.21,365.60 L1136.38,365.44 L1137.54,365.29 L1138.70,365.13 L1139.87,364.99 L1141.03,364.84 L1142.20,364.70 L1143.36,364.56 L1144.52,364.42 L1145.69,364.29 L1146.85,364.15 L1148.02,364.02 L1149.18,363.90 L1150.34,363.77 L1151.51,363.65 L1152.67,363.52 L1153.84,363.40 L1155.00,363.29 L1156.16,363.17 L1157.33,363.05 L1158.49,362.94 L1159.66,362.83 L1160.82,362.72 L1161.98,362.61 L1163.15,362.50 L1164.31,362.40 L1165.48,362.29 L1166.64,362.19 L1167.80,362.09 L1168.97,361.99 L1170.13,361.89 L1171.30,361.79 L1172.46,361.69 L1173.62,361.59 L1174.79,361.49 L1175.95,361.39 L1177.12,361.30 L1178.28,361.20 L1179.44,361.11 L1180.61,361.01 L1181.77,360.92 L1182.94,360.82 L1184.10,360.73" stroke-width="5.8"/>
<path d="M136.50,1741.62 L136.99,1734.73 L137.49,1728.35 L137.98,1722.37 L138.47,1716.73 L138.97,1711.36 L139.46,1706.23 L139.95,1701.32 L140.45,1696.58 L140.94,1692.01 L141.43,1687.59 L141.93,1683.31 L142.42,1679.14 L142.91,1675.10 L143.41,1671.16 L143.90,1667.31 L144.39,1663.56 L144.88,1659.90 L145.38,1656.32 L145.87,1652.82 L146.36,1649.39 L146.86,1646.04 L147.35,1642.76 L147.84,1639.54 L148.34,1636.39 L148.83,1633.30 L149.32,1630.27 L149.82,1627.30 L150.31,1624.39 L150.80,1621.53 L151.30,1618.72 L151.79,1615.97 L152.28,1613.26 L152.78,1610.61 L153.27,1608.00 L153.76,1605.43 L154.26,1602.91 L154.75,1600.43 L155.24,1598.00 L155.74,1595.60 L156.23,1593.24 L156.72,1590.93 L157.22,1588.64 L157.71,1586.40 L158.20,1584.19 L158.69,1582.02 L159.19,1579.88 L159.68,1577.77 L160.17,1575.70 L160.67,1573.66 L161.16,1571.65 L161.65,1569.68 L162.15,1567.73 L162.64,1565.81 L163.13,1563.93 L163.63,1562.07 L164.12,1560.23 L164.61,1558.43 L165.11,1556.65 L165.60,1554.90 L166.18,1552.86 L167.28,1549.09 L168.38,1545.44 L169.48,1541.88 L170.57,1538.41 L171.67,1535.03 L172.77,1531.72 L173.87,1528.49 L174.96,1525.33 L176.06,1522.23 L177.16,1519.19 L178.26,1516.20 L179.35,1513.26 L180.45,1510.37 L181.55,1507.53 L182.65,1504.72 L183.75,1501.94 L184.84,1499.20 L185.94,1496.49 L187.04,1493.80 L188.14,1491.14 L189.23,1488.50 L190.33,1485.87 L191.43,1483.26 L192.53,1480.67 L193.62,1478.09 L194.72,1475.51 L195.82,1472.95 L196.92,1470.40 L198.02,1467.86 L199.11,1465.33 L200.21,1462.80 L201.31,1460.28 L202.41,1457.77 L203.50,1455.27 L204.60,1452.78 L205.70,1450.29 L206.80,1447.82 L207.89,1445.36 L208.99,1442.91 L210.09,1440.48 L211.19,1438.05 L212.29,1435.64 L213.38,1433.24 L214.48,1430.85 L215.58,1428.47 L216.68,1426.11 L217.77,1423.75 L218.87,1421.40 L219.97,1419.07 L221.07,1416.74 L222.16,1414.42 L223.26,1412.12 L224.36,1409.82 L225.46,1407.53 L226.56,1405.25 L227.65,1402.99 L228.75,1400.73 L229.85,1398.47 L230.95,1396.23 L232.04,1394.00 L233.14,1391.77 L234.24,1389.55 L235.34,1387.35 L236.43,1385.14 L237.53,1382.95 L238.63,1380.77 L239.73,1378.59 L240.83,1376.42 L241.92,1374.25 L243.02,1372.09 L244.12,1369.94 L245.22,1367.79 L246.31,1365.64 L247.41,1363.50 L248.51,1361.36 L249.61,1359.22 L250.70,1357.09 L251.80,1354.97 L252.90,1352.84 L254.06,1350.60 L255.23,1348.36 L256.39,1346.12 L257.56,1343.89 L258.72,1341.67 L259.88,1339.46 L261.05,1337.25 L262.21,1335.05 L263.38,1332.86 L264.54,1330.68 L265.70,1328.51 L266.87,1326.35 L268.03,1324.20 L269.20,1322.06 L270.36,1319.93 L271.52,1317.82 L272.69,1315.71 L273.85,1313.62 L275.02,1311.54 L276.18,1309.48 L277.34,1307.43 L278.51,1305.39 L279.67,1303.37 L280.84,1301.36 L282.00,1299.37 L283.16,1297.39 L284.33,1295.43 L285.49,1293.49 L286.66,1291.57 L287.82,1289.66 L288.98,1287.77 L290.15,1285.89 L291.31,1284.04 L292.48,1282.21 L293.64,1280.39 L294.80,1278.59 L295.97,1276.81 L297.13,1275.04 L298.30,1273.28 L299.46,1271.54 L300.62,1269.81 L301.79,1268.10 L302.95,1266.39 L304.12,1264.69 L305.28,1263.00 L306.44,1261.32 L307.61,1259.64 L308.77,1257.97 L309.94,1256.30 L311.10,1254.64 L312.26,1252.99 L313.43,1251.34 L314.59,1249.69 L315.76,1248.05 L316.92,1246.41 L318.08,1244.78 L319.25,1243.15 L320.41,1241.52 L321.58,1239.90 L322.74,1238.28 L323.90,1236.67 L325.07,1235.05 L326.23,1233.44 L327.40,1231.84 L328.56,1230.23 L329.72,1228.63 L330.89,1227.04 L332.05,1225.44 L333.22,1223.85 L334.38,1222.26 L335.54,1220.68 L336.71,1219.10 L337.87,1217.52 L339.04,1215.94 L340.20,1214.37 L341.36,1212.80 L342.53,1211.24 L343.69,1209.67 L344.86,1208.11 L346.02,1206.56 L347.18,1205.00 L348.35,1203.45 L349.51,1201.90 L350.68,1200.36 L351.84,1198.82 L353.00,1197.28 L354.17,1195.74 L355.33,1194.21 L356.50,1192.68 L357.66,1191.15 L358.82,1189.63 L359.99,1188.11 L361.15,1186.59 L362.32,1185.08 L363.48,1183.56 L364.64,1182.05 L365.81,1180.55 L366.97,1179.04 L368.14,1177.54 L369.30,1176.05 L370.46,1174.55 L371.63,1173.06 L372.79,1171.57 L373.96,1170.09 L375.12,1168.60 L376.28,1167.12 L377.45,1165.65 L378.61,1164.17 L379.78,1162.70 L380.94,1161.23 L382.10,1159.76 L383.27,1158.30 L384.43,1156.84 L385.60,1155.38 L386.76,1153.92 L387.92,1152.46 L389.09,1151.01 L390.25,1149.56 L391.42,1148.11 L392.58,1146.67 L393.74,1145.23 L394.91,1143.78 L396.07,1142.35 L397.24,1140.91 L398.40,1139.48 L399.56,1138.04 L400.73,1136.61 L401.89,1135.18 L403.06,1133.76 L404.22,1132.33 L405.38,1130.91 L406.55,1129.49 L407.71,1128.07 L408.88,1126.66 L410.04,1125.24 L411.20,1123.83 L412.37,1122.42 L413.53,1121.01 L414.70,1119.60 L415.86,1118.20 L417.02,1116.79 L418.19,1115.39 L419.35,1113.99 L420.52,1112.59 L421.68,1111.19 L422.84,1109.80 L424.01,1108.40 L425.17,1107.01 L426.34,1105.62 L427.50,1104.23 L428.66,1102.84 L429.83,1101.45 L430.99,1100.07 L432.16,1098.68 L433.32,1097.30 L434.48,1095.92 L435.65,1094.54 L436.81,1093.16 L437.98,1091.78 L439.14,1090.40 L440.30,1089.02 L441.47,1087.65 L442.63,1086.27 L443.80,1084.90 L444.96,1083.53 L446.12,1082.16 L447.29,1080.78 L448.45,1079.41 L449.62,1078.05 L450.78,1076.68 L451.94,1075.31 L453.11,1073.94 L454.27,1072.57 L455.44,1071.21 L456.60,1069.84 L457.76,1068.48 L458.93,1067.11 L460.09,1065.75 L461.26,1064.38 L462.42,1063.02 L463.58,1061.65 L464.75,1060.29 L465.91,1058.93 L467.08,1057.56 L468.24,1056.20 L469.40,1054.84 L470.57,1053.48 L471.73,1052.11 L472.90,1050.75 L474.06,1049.39 L475.22,1048.03 L476.39,1046.66 L477.55,1045.30 L478.72,1043.94 L479.88,1042.58 L481.04,1041.21 L482.21,1039.85 L483.37,1038.49 L484.54,1037.12 L485.70,1035.76 L486.86,1034.39 L488.03,1033.03 L489.19,1031.66 L490.36,1030.30 L491.52,1028.93 L492.68,1027.57 L493.85,1026.20 L495.01,1024.84 L496.18,1023.47 L497.34,1022.11 L498.50,1020.75 L499.67,1019.38 L500.83,1018.02 L502.00,1016.66 L503.16,1015.30 L504.32,1013.94 L505.49,1012.58 L506.65,1011.23 L507.82,1009.87 L508.98,1008.52 L510.14,1007.16 L511.31,1005.81 L512.47,1004.46 L513.64,1003.11 L514.80,1001.77 L515.96,1000.42 L517.13,999.08 L518.29,997.74 L519.46,996.40 L520.62,995.06 L521.78,993.73 L522.95,992.40 L524.11,991.07 L525.28,989.74 L526.44,988.42 L527.60,987.10 L528.77,985.78 L529.93,984.46 L531.10,983.15 L532.26,981.84 L533.42,980.53 L534.59,979.23 L535.75,977.93 L536.92,976.63 L538.08,975.34 L539.24,974.05 L540.41,972.76 L541.57,971.48 L542.74,970.20 L543.90,968.93 L545.06,967.66 L546.23,966.39 L547.39,965.13 L548.56,963.87 L549.72,962.61 L550.88,961.36 L552.05,960.11 L553.21,958.86 L554.38,957.62 L555.54,956.38 L556.70,955.15 L557.87,953.92 L559.03,952.69 L560.20,951.46 L561.36,950.24 L562.52,949.02 L563.69,947.80 L564.85,946.59 L566.02,945.38 L567.18,944.17 L568.34,942.96 L569.51,941.76 L570.67,940.56 L571.84,939.36 L573.00,938.16 L574.16,936.97 L575.33,935.78 L576.49,934.59 L577.66,933.40 L578.82,932.22 L579.98,931.03 L581.15,929.85 L582.31,928.67 L583.48,927.50 L584.64,926.32 L585.80,925.15 L586.97,923.98 L588.13,922.81 L589.30,921.64 L590.46,920.47 L591.62,919.30 L592.79,918.14 L593.95,916.98 L595.12,915.82 L596.28,914.66 L597.44,913.50 L598.61,912.34 L599.77,911.18 L600.94,910.03 L602.10,908.87 L603.26,907.72 L604.43,906.57 L605.59,905.41 L606.76,904.26 L607.92,903.11 L609.08,901.96 L610.25,900.82 L611.41,899.67 L612.58,898.52 L613.74,897.38 L614.90,896.24 L616.07,895.10 L617.23,893.95 L618.40,892.82 L619.56,891.68 L620.72,890.54 L621.89,889.41 L623.05,888.27 L624.22,887.14 L625.38,886.01 L626.54,884.88 L627.71,883.75 L628.87,882.63 L630.04,881.50 L631.20,880.38 L632.36,879.26 L633.53,878.14 L634.69,877.02 L635.86,875.91 L637.02,874.80 L638.18,873.68 L639.35,872.57 L640.51,871.47 L641.68,870.36 L642.84,869.25 L644.00,868.15 L645.17,867.05 L646.33,865.95 L647.50,864.86 L648.66,863.76 L649.82,862.67 L650.99,861.58 L652.15,860.50 L653.32,859.41 L654.48,858.33 L655.64,857.25 L656.81,856.17 L657.97,855.09 L659.14,854.02 L660.30,852.95 L661.46,851.88 L662.63,850.81 L663.79,849.75 L664.96,848.69 L666.12,847.62 L667.28,846.56 L668.45,845.50 L669.61,844.44 L670.78,843.39 L671.94,842.33 L673.10,841.27 L674.27,840.21 L675.43,839.15 L676.60,838.09 L677.76,837.02 L678.92,835.96 L680.09,834.89 L681.25,833.83 L682.42,832.76 L683.58,831.68 L684.74,830.61 L685.91,829.53 L687.07,828.45 L688.24,827.36 L689.40,826.27 L690.56,825.18 L691.73,824.08 L692.89,822.98 L694.06,821.87 L695.22,820.77 L696.38,819.65 L697.55,818.54 L698.71,817.42 L699.88,816.30 L701.04,815.18 L702.20,814.05 L703.37,812.93 L704.53,811.80 L705.70,810.67 L706.86,809.54 L708.02,808.40 L709.19,807.27 L710.35,806.13 L711.52,804.99 L712.68,803.86 L713.84,802.72 L715.01,801.58 L716.17,800.44 L717.34,799.30 L718.50,798.16 L719.66,797.03 L720.83,795.89 L721.99,794.75 L723.16,793.61 L724.32,792.48 L725.48,791.34 L726.65,790.20 L727.81,789.07 L728.98,787.93 L730.14,786.80 L731.30,785.66 L732.47,784.53 L733.63,783.39 L734.80,782.26 L735.96,781.12 L737.12,779.99 L738.29,778.85 L739.45,777.72 L740.62,776.58 L741.78,775.45 L742.94,774.31 L744.11,773.18 L745.27,772.04 L746.44,770.91 L747.60,769.77 L748.76,768.64 L749.93,767.50 L751.09,766.37 L752.26,765.23 L753.42,764.10 L754.58,762.96 L755.75,761.82 L756.91,760.68 L758.08,759.54 L759.24,758.39 L760.40,757.25 L761.57,756.10 L762.73,754.95 L763.90,753.80 L765.06,752.64 L766.22,751.49 L767.39,750.33 L768.55,749.16 L769.72,748.00 L770.88,746.83 L772.04,745.65 L773.21,744.48 L774.37,743.30 L775.54,742.11 L776.70,740.93 L777.86,739.73 L779.03,738.54 L780.19,737.33 L781.36,736.13 L782.52,734.92 L783.68,733.70 L784.85,732.48 L786.01,731.26 L787.18,730.03 L788.34,728.79 L789.50,727.56 L790.67,726.31 L791.83,725.06 L793.00,723.81 L794.16,722.55 L795.32,721.29 L796.49,720.02 L797.65,718.74 L798.82,717.46 L799.98,716.18 L801.14,714.89 L802.31,713.59 L803.47,712.29 L804.64,710.98 L805.80,709.67 L806.96,708.35 L808.13,707.03 L809.29,705.70 L810.46,704.36 L811.62,703.02 L812.78,701.68 L813.95,700.32 L815.11,698.97 L816.28,697.60 L817.44,696.24 L818.60,694.86 L819.77,693.48 L820.93,692.10 L822.10,690.70 L823.26,689.31 L824.42,687.91 L825.59,686.50 L826.75,685.08 L827.92,683.67 L829.08,682.24 L830.24,680.81 L831.41,679.38 L832.57,677.94 L833.74,676.49 L834.90,675.04 L836.06,673.58 L837.23,672.12 L838.39,670.65 L839.56,669.18 L840.72,667.70 L841.88,666.22 L843.05,664.74 L844.21,663.25 L845.38,661.75 L846.54,660.26 L847.70,658.76 L848.87,657.25 L850.03,655.74 L851.20,654.23 L852.36,652.72 L853.52,651.20 L854.69,649.68 L855.85,648.16 L857.02,646.64 L858.18,645.11 L859.34,643.59 L860.51,642.06 L861.67,640.53 L862.84,639.00 L864.00,637.46 L865.16,635.93 L866.33,634.40 L867.49,632.86 L868.66,631.33 L869.82,629.79 L870.98,628.25 L872.15,626.71 L873.31,625.17 L874.48,623.63 L875.64,622.08 L876.80,620.54 L877.97,618.99 L879.13,617.45 L880.30,615.90 L881.46,614.35 L882.62,612.80 L883.79,611.24 L884.95,609.69 L886.12,608.13 L887.28,606.58 L888.44,605.02 L889.61,603.45 L890.77,601.89 L891.94,600.33 L893.10,598.76 L894.26,597.19 L895.43,595.62 L896.59,594.05 L897.76,592.48 L898.92,590.90 L900.08,589.33 L901.25,587.76 L902.41,586.18 L903.58,584.61 L904.74,583.04 L905.90,581.47 L907.07,579.90 L908.23,578.34 L909.40,576.77 L910.56,575.21 L911.72,573.65 L912.89,572.10 L914.05,570.55 L915.22,569.00 L916.38,567.46 L917.54,565.92 L918.71,564.38 L919.87,562.85 L921.04,561.33 L922.20,559.81 L923.36,558.30 L924.53,556.80 L925.69,555.30 L926.86,553.80 L928.02,552.32 L929.18,550.84 L930.35,549.36 L931.51,547.89 L932.68,546.43 L933.84,544.98 L935.00,543.53 L936.17,542.08 L937.33,540.65 L938.50,539.21 L939.66,537.79 L940.82,536.37 L941.99,534.96 L943.15,533.55 L944.32,532.15 L945.48,530.76 L946.64,529.37 L947.81,527.99 L948.97,526.61 L950.14,525.24 L951.30,523.88 L952.46,522.52 L953.63,521.17 L954.79,519.83 L955.96,518.49 L957.12,517.16 L958.28,515.83 L959.45,514.51 L960.61,513.20 L961.78,511.89 L962.94,510.59 L964.10,509.29 L965.27,508.00 L966.43,506.71 L967.60,505.43 L968.76,504.15 L969.92,502.88 L971.09,501.62 L972.25,500.36 L973.42,499.10 L974.58,497.85 L975.74,496.61 L976.91,495.37 L978.07,494.13 L979.24,492.90 L980.40,491.68 L981.56,490.46 L982.73,489.24 L983.89,488.03 L985.06,486.82 L986.22,485.62 L987.38,484.43 L988.55,483.24 L989.71,482.06 L990.88,480.89 L992.04,479.72 L993.20,478.56 L994.37,477.40 L995.53,476.26 L996.70,475.12 L997.86,473.99 L999.02,472.86 L1000.19,471.75 L1001.35,470.64 L1002.52,469.55 L1003.68,468.46 L1004.84,467.38 L1006.01,466.31 L1007.17,465.25 L1008.34,464.20 L1009.50,463.16 L1010.66,462.14 L1011.83,461.12 L1012.99,460.11 L1014.16,459.12 L1015.32,458.13 L1016.48,457.16 L1017.65,456.20 L1018.81,455.25 L1019.98,454.31 L1021.14,453.38 L1022.30,452.47 L1023.47,451.57 L1024.63,450.68 L1025.80,449.80 L1026.96,448.94 L1028.12,448.09 L1029.29,447.26 L1030.45,446.43 L1031.62,445.62 L1032.78,444.83 L1033.94,444.05 L1035.11,443.28 L1036.27,442.53 L1037.44,441.79 L1038.60,441.07 L1039.76,440.36 L1040.93,439.67 L1042.09,438.99 L1043.26,438.32 L1044.42,437.67 L1045.58,437.03 L1046.75,436.40 L1047.91,435.79 L1049.08,435.19 L1050.24,434.60 L1051.40,434.02 L1052.57,433.45 L1053.73,432.89 L1054.90,432.34 L1056.06,431.80 L1057.22,431.27 L1058.39,430.76 L1059.55,430.24 L1060.72,429.74 L1061.88,429.25 L1063.04,428.76 L1064.21,428.28 L1065.37,427.81 L1066.54,427.34 L1067.70,426.88 L1068.86,426.43 L1070.03,425.98 L1071.19,425.54 L1072.36,425.10 L1073.52,424.67 L1074.68,424.25 L1075.85,423.83 L1077.01,423.42 L1078.18,423.01 L1079.34,422.60 L1080.50,422.21 L1081.67,421.82 L1082.83,421.43 L1084.00,421.05 L1085.16,420.67 L1086.32,420.30 L1087.49,419.94 L1088.65,419.58 L1089.82,419.22 L1090.98,418.87 L1092.14,418.53 L1093.31,418.19 L1094.47,417.85 L1095.64,417.52 L1096.80,417.20 L1097.96,416.88 L1099.13,416.56 L1100.29,416.25 L1101.46,415.95 L1102.62,415.64 L1103.78,415.35 L1104.95,415.06 L1106.11,414.77 L1107.28,414.49 L1108.44,414.21 L1109.60,413.94 L1110.77,413.67 L1111.93,413.40 L1113.10,413.14 L1114.26,412.89 L1115.42,412.64 L1116.59,412.39 L1117.75,412.15 L1118.92,411.91 L1120.08,411.67 L1121.24,411.44 L1122.41,411.21 L1123.57,410.99 L1124.74,410.77 L1125.90,410.56 L1127.06,410.35 L1128.23,410.14 L1129.39,409.94 L1130.56,409.74 L1131.72,409.54 L1132.88,409.35 L1134.05,409.16 L1135.21,408.98 L1136.38,408.79 L1137.54,408.62 L1138.70,408.44 L1139.87,408.27 L1141.03,408.10 L1142.20,407.93 L1143.36,407.77 L1144.52,407.61 L1145.69,407.45 L1146.85,407.29 L1148.02,407.14 L1149.18,406.99 L1150.34,406.84 L1151.51,406.69 L1152.67,406.55 L1153.84,406.40 L1155.00,406.26 L1156.16,406.12 L1157.33,405.99 L1158.49,405.85 L1159.66,405.72 L1160.82,405.59 L1161.98,405.46 L1163.15,405.33 L1164.31,405.20 L1165.48,405.08 L1166.64,404.95 L1167.80,404.83 L1168.97,404.71 L1170.13,404.59 L1171.30,404.47 L1172.46,404.35 L1173.62,404.23 L1174.79,404.11 L1175.95,403.99 L1177.12,403.88 L1178.28,403.76 L1179.44,403.64 L1180.61,403.53 L1181.77,403.41 L1182.94,403.30 L1184.10,403.18" stroke-width="1.5" stroke-dasharray="13 7"/>
<path d="M136.50,1757.03 L136.99,1750.44 L137.49,1744.33 L137.98,1738.61 L138.47,1733.21 L138.97,1728.07 L139.46,1723.15 L139.95,1718.43 L140.45,1713.89 L140.94,1709.50 L141.43,1705.24 L141.93,1701.11 L142.42,1697.10 L142.91,1693.19 L143.41,1689.38 L143.90,1685.66 L144.39,1682.03 L144.88,1678.47 L145.38,1674.99 L145.87,1671.58 L146.36,1668.23 L146.86,1664.95 L147.35,1661.73 L147.84,1658.57 L148.34,1655.47 L148.83,1652.42 L149.32,1649.43 L149.82,1646.50 L150.31,1643.62 L150.80,1640.80 L151.30,1638.03 L151.79,1635.32 L152.28,1632.67 L152.78,1630.07 L153.27,1627.52 L153.76,1625.03 L154.26,1622.58 L154.75,1620.19 L155.24,1617.84 L155.74,1615.53 L156.23,1613.27 L156.72,1611.04 L157.22,1608.86 L157.71,1606.71 L158.20,1604.59 L158.69,1602.51 L159.19,1600.47 L159.68,1598.45 L160.17,1596.47 L160.67,1594.51 L161.16,1592.58 L161.65,1590.68 L162.15,1588.80 L162.64,1586.95 L163.13,1585.13 L163.63,1583.32 L164.12,1581.54 L164.61,1579.78 L165.11,1578.04 L165.60,1576.32 L166.18,1574.31 L167.28,1570.59 L168.38,1566.95 L169.48,1563.39 L170.57,1559.89 L171.67,1556.46 L172.77,1553.10 L173.87,1549.81 L174.96,1546.58 L176.06,1543.42 L177.16,1540.33 L178.26,1537.30 L179.35,1534.33 L180.45,1531.41 L181.55,1528.54 L182.65,1525.72 L183.75,1522.94 L184.84,1520.21 L185.94,1517.51 L187.04,1514.85 L188.14,1512.23 L189.23,1509.64 L190.33,1507.07 L191.43,1504.54 L192.53,1502.02 L193.62,1499.54 L194.72,1497.07 L195.82,1494.62 L196.92,1492.19 L198.02,1489.78 L199.11,1487.38 L200.21,1484.99 L201.31,1482.61 L202.41,1480.24 L203.50,1477.88 L204.60,1475.53 L205.70,1473.19 L206.80,1470.84 L207.89,1468.51 L208.99,1466.17 L210.09,1463.84 L211.19,1461.50 L212.29,1459.17 L213.38,1456.84 L214.48,1454.50 L215.58,1452.17 L216.68,1449.83 L217.77,1447.49 L218.87,1445.15 L219.97,1442.81 L221.07,1440.47 L222.16,1438.12 L223.26,1435.77 L224.36,1433.42 L225.46,1431.08 L226.56,1428.73 L227.65,1426.39 L228.75,1424.05 L229.85,1421.72 L230.95,1419.39 L232.04,1417.08 L233.14,1414.76 L234.24,1412.46 L235.34,1410.16 L236.43,1407.88 L237.53,1405.61 L238.63,1403.34 L239.73,1401.09 L240.83,1398.86 L241.92,1396.63 L243.02,1394.43 L244.12,1392.23 L245.22,1390.06 L246.31,1387.90 L247.41,1385.75 L248.51,1383.63 L249.61,1381.52 L250.70,1379.43 L251.80,1377.36 L252.90,1375.30 L254.06,1373.14 L255.23,1370.99 L256.39,1368.85 L257.56,1366.72 L258.72,1364.61 L259.88,1362.51 L261.05,1360.42 L262.21,1358.34 L263.38,1356.27 L264.54,1354.21 L265.70,1352.16 L266.87,1350.12 L268.03,1348.09 L269.20,1346.07 L270.36,1344.07 L271.52,1342.08 L272.69,1340.09 L273.85,1338.12 L275.02,1336.17 L276.18,1334.22 L277.34,1332.29 L278.51,1330.36 L279.67,1328.45 L280.84,1326.55 L282.00,1324.66 L283.16,1322.78 L284.33,1320.92 L285.49,1319.06 L286.66,1317.22 L287.82,1315.39 L288.98,1313.57 L290.15,1311.76 L291.31,1309.96 L292.48,1308.18 L293.64,1306.40 L294.80,1304.64 L295.97,1302.89 L297.13,1301.14 L298.30,1299.41 L299.46,1297.69 L300.62,1295.98 L301.79,1294.29 L302.95,1292.60 L304.12,1290.93 L305.28,1289.26 L306.44,1287.61 L307.61,1285.97 L308.77,1284.33 L309.94,1282.71 L311.10,1281.10 L312.26,1279.50 L313.43,1277.91 L314.59,1276.33 L315.76,1274.76 L316.92,1273.20 L318.08,1271.64 L319.25,1270.10 L320.41,1268.56 L321.58,1267.02 L322.74,1265.49 L323.90,1263.97 L325.07,1262.45 L326.23,1260.93 L327.40,1259.42 L328.56,1257.91 L329.72,1256.41 L330.89,1254.90 L332.05,1253.41 L333.22,1251.91 L334.38,1250.42 L335.54,1248.93 L336.71,1247.44 L337.87,1245.95 L339.04,1244.47 L340.20,1242.99 L341.36,1241.50 L342.53,1240.02 L343.69,1238.55 L344.86,1237.07 L346.02,1235.59 L347.18,1234.12 L348.35,1232.64 L349.51,1231.17 L350.68,1229.70 L351.84,1228.23 L353.00,1226.77 L354.17,1225.30 L355.33,1223.84 L356.50,1222.38 L357.66,1220.92 L358.82,1219.46 L359.99,1218.00 L361.15,1216.55 L362.32,1215.09 L363.48,1213.64 L364.64,1212.19 L365.81,1210.75 L366.97,1209.30 L368.14,1207.86 L369.30,1206.42 L370.46,1204.98 L371.63,1203.54 L372.79,1202.11 L373.96,1200.68 L375.12,1199.24 L376.28,1197.82 L377.45,1196.39 L378.61,1194.96 L379.78,1193.54 L380.94,1192.12 L382.10,1190.70 L383.27,1189.28 L384.43,1187.87 L385.60,1186.45 L386.76,1185.04 L387.92,1183.63 L389.09,1182.22 L390.25,1180.81 L391.42,1179.41 L392.58,1178.00 L393.74,1176.60 L394.91,1175.20 L396.07,1173.80 L397.24,1172.40 L398.40,1171.00 L399.56,1169.61 L400.73,1168.21 L401.89,1166.82 L403.06,1165.43 L404.22,1164.04 L405.38,1162.65 L406.55,1161.27 L407.71,1159.88 L408.88,1158.50 L410.04,1157.11 L411.20,1155.73 L412.37,1154.35 L413.53,1152.97 L414.70,1151.59 L415.86,1150.22 L417.02,1148.84 L418.19,1147.47 L419.35,1146.09 L420.52,1144.72 L421.68,1143.35 L422.84,1141.98 L424.01,1140.61 L425.17,1139.24 L426.34,1137.87 L427.50,1136.51 L428.66,1135.14 L429.83,1133.78 L430.99,1132.41 L432.16,1131.05 L433.32,1129.69 L434.48,1128.33 L435.65,1126.97 L436.81,1125.61 L437.98,1124.25 L439.14,1122.90 L440.30,1121.54 L441.47,1120.19 L442.63,1118.84 L443.80,1117.49 L444.96,1116.14 L446.12,1114.79 L447.29,1113.44 L448.45,1112.10 L449.62,1110.75 L450.78,1109.41 L451.94,1108.07 L453.11,1106.73 L454.27,1105.39 L455.44,1104.05 L456.60,1102.72 L457.76,1101.39 L458.93,1100.05 L460.09,1098.72 L461.26,1097.40 L462.42,1096.07 L463.58,1094.74 L464.75,1093.42 L465.91,1092.10 L467.08,1090.78 L468.24,1089.46 L469.40,1088.15 L470.57,1086.83 L471.73,1085.52 L472.90,1084.21 L474.06,1082.90 L475.22,1081.59 L476.39,1080.29 L477.55,1078.99 L478.72,1077.69 L479.88,1076.39 L481.04,1075.09 L482.21,1073.80 L483.37,1072.51 L484.54,1071.22 L485.70,1069.93 L486.86,1068.64 L488.03,1067.36 L489.19,1066.08 L490.36,1064.80 L491.52,1063.52 L492.68,1062.25 L493.85,1060.97 L495.01,1059.70 L496.18,1058.43 L497.34,1057.16 L498.50,1055.90 L499.67,1054.63 L500.83,1053.37 L502.00,1052.11 L503.16,1050.85 L504.32,1049.59 L505.49,1048.34 L506.65,1047.08 L507.82,1045.83 L508.98,1044.58 L510.14,1043.32 L511.31,1042.07 L512.47,1040.83 L513.64,1039.58 L514.80,1038.33 L515.96,1037.09 L517.13,1035.84 L518.29,1034.60 L519.46,1033.36 L520.62,1032.12 L521.78,1030.88 L522.95,1029.64 L524.11,1028.40 L525.28,1027.16 L526.44,1025.92 L527.60,1024.69 L528.77,1023.45 L529.93,1022.22 L531.10,1020.98 L532.26,1019.75 L533.42,1018.51 L534.59,1017.28 L535.75,1016.05 L536.92,1014.81 L538.08,1013.58 L539.24,1012.35 L540.41,1011.12 L541.57,1009.89 L542.74,1008.65 L543.90,1007.42 L545.06,1006.19 L546.23,1004.96 L547.39,1003.73 L548.56,1002.50 L549.72,1001.27 L550.88,1000.04 L552.05,998.81 L553.21,997.58 L554.38,996.35 L555.54,995.13 L556.70,993.90 L557.87,992.68 L559.03,991.45 L560.20,990.23 L561.36,989.01 L562.52,987.79 L563.69,986.57 L564.85,985.36 L566.02,984.14 L567.18,982.93 L568.34,981.71 L569.51,980.50 L570.67,979.30 L571.84,978.09 L573.00,976.89 L574.16,975.69 L575.33,974.49 L576.49,973.29 L577.66,972.09 L578.82,970.90 L579.98,969.71 L581.15,968.53 L582.31,967.34 L583.48,966.16 L584.64,964.98 L585.80,963.81 L586.97,962.63 L588.13,961.47 L589.30,960.30 L590.46,959.14 L591.62,957.98 L592.79,956.82 L593.95,955.67 L595.12,954.52 L596.28,953.38 L597.44,952.23 L598.61,951.10 L599.77,949.96 L600.94,948.83 L602.10,947.71 L603.26,946.59 L604.43,945.47 L605.59,944.36 L606.76,943.25 L607.92,942.14 L609.08,941.04 L610.25,939.94 L611.41,938.85 L612.58,937.76 L613.74,936.67 L614.90,935.59 L616.07,934.51 L617.23,933.43 L618.40,932.36 L619.56,931.29 L620.72,930.22 L621.89,929.16 L623.05,928.10 L624.22,927.04 L625.38,925.98 L626.54,924.93 L627.71,923.88 L628.87,922.83 L630.04,921.79 L631.20,920.75 L632.36,919.71 L633.53,918.67 L634.69,917.64 L635.86,916.61 L637.02,915.58 L638.18,914.55 L639.35,913.52 L640.51,912.50 L641.68,911.48 L642.84,910.46 L644.00,909.44 L645.17,908.43 L646.33,907.41 L647.50,906.40 L648.66,905.39 L649.82,904.38 L650.99,903.38 L652.15,902.37 L653.32,901.37 L654.48,900.36 L655.64,899.36 L656.81,898.36 L657.97,897.36 L659.14,896.36 L660.30,895.36 L661.46,894.37 L662.63,893.37 L663.79,892.38 L664.96,891.38 L666.12,890.39 L667.28,889.40 L668.45,888.40 L669.61,887.41 L670.78,886.42 L671.94,885.43 L673.10,884.43 L674.27,883.44 L675.43,882.45 L676.60,881.45 L677.76,880.46 L678.92,879.47 L680.09,878.47 L681.25,877.47 L682.42,876.48 L683.58,875.48 L684.74,874.48 L685.91,873.48 L687.07,872.48 L688.24,871.47 L689.40,870.47 L690.56,869.46 L691.73,868.45 L692.89,867.44 L694.06,866.43 L695.22,865.41 L696.38,864.40 L697.55,863.38 L698.71,862.36 L699.88,861.33 L701.04,860.31 L702.20,859.28 L703.37,858.24 L704.53,857.21 L705.70,856.17 L706.86,855.13 L708.02,854.08 L709.19,853.04 L710.35,851.99 L711.52,850.93 L712.68,849.87 L713.84,848.81 L715.01,847.75 L716.17,846.68 L717.34,845.60 L718.50,844.52 L719.66,843.44 L720.83,842.36 L721.99,841.27 L723.16,840.17 L724.32,839.08 L725.48,837.98 L726.65,836.88 L727.81,835.78 L728.98,834.67 L730.14,833.56 L731.30,832.46 L732.47,831.35 L733.63,830.24 L734.80,829.13 L735.96,828.02 L737.12,826.91 L738.29,825.80 L739.45,824.70 L740.62,823.59 L741.78,822.49 L742.94,821.38 L744.11,820.28 L745.27,819.18 L746.44,818.09 L747.60,817.00 L748.76,815.91 L749.93,814.82 L751.09,813.74 L752.26,812.65 L753.42,811.58 L754.58,810.50 L755.75,809.43 L756.91,808.35 L758.08,807.28 L759.24,806.21 L760.40,805.14 L761.57,804.08 L762.73,803.01 L763.90,801.94 L765.06,800.88 L766.22,799.81 L767.39,798.74 L768.55,797.68 L769.72,796.61 L770.88,795.54 L772.04,794.48 L773.21,793.41 L774.37,792.34 L775.54,791.26 L776.70,790.19 L777.86,789.11 L779.03,788.04 L780.19,786.95 L781.36,785.87 L782.52,784.78 L783.68,783.69 L784.85,782.59 L786.01,781.49 L787.18,780.38 L788.34,779.27 L789.50,778.15 L790.67,777.02 L791.83,775.89 L793.00,774.75 L794.16,773.60 L795.32,772.44 L796.49,771.27 L797.65,770.10 L798.82,768.91 L799.98,767.71 L801.14,766.51 L802.31,765.29 L803.47,764.06 L804.64,762.82 L805.80,761.56 L806.96,760.30 L808.13,759.02 L809.29,757.72 L810.46,756.42 L811.62,755.11 L812.78,753.78 L813.95,752.45 L815.11,751.10 L816.28,749.75 L817.44,748.39 L818.60,747.02 L819.77,745.64 L820.93,744.25 L822.10,742.86 L823.26,741.46 L824.42,740.05 L825.59,738.64 L826.75,737.22 L827.92,735.80 L829.08,734.37 L830.24,732.94 L831.41,731.51 L832.57,730.07 L833.74,728.63 L834.90,727.19 L836.06,725.75 L837.23,724.30 L838.39,722.86 L839.56,721.41 L840.72,719.96 L841.88,718.51 L843.05,717.05 L844.21,715.60 L845.38,714.15 L846.54,712.69 L847.70,711.23 L848.87,709.78 L850.03,708.32 L851.20,706.86 L852.36,705.41 L853.52,703.95 L854.69,702.49 L855.85,701.03 L857.02,699.57 L858.18,698.11 L859.34,696.66 L860.51,695.20 L861.67,693.74 L862.84,692.28 L864.00,690.83 L865.16,689.37 L866.33,687.92 L867.49,686.46 L868.66,685.01 L869.82,683.56 L870.98,682.11 L872.15,680.65 L873.31,679.20 L874.48,677.75 L875.64,676.31 L876.80,674.86 L877.97,673.41 L879.13,671.96 L880.30,670.51 L881.46,669.07 L882.62,667.62 L883.79,666.18 L884.95,664.73 L886.12,663.29 L887.28,661.84 L888.44,660.40 L889.61,658.96 L890.77,657.52 L891.94,656.08 L893.10,654.63 L894.26,653.19 L895.43,651.75 L896.59,650.31 L897.76,648.87 L898.92,647.43 L900.08,645.99 L901.25,644.55 L902.41,643.10 L903.58,641.66 L904.74,640.21 L905.90,638.76 L907.07,637.31 L908.23,635.86 L909.40,634.40 L910.56,632.95 L911.72,631.49 L912.89,630.02 L914.05,628.56 L915.22,627.09 L916.38,625.61 L917.54,624.13 L918.71,622.65 L919.87,621.17 L921.04,619.68 L922.20,618.18 L923.36,616.68 L924.53,615.18 L925.69,613.67 L926.86,612.16 L928.02,610.64 L929.18,609.13 L930.35,607.61 L931.51,606.09 L932.68,604.57 L933.84,603.04 L935.00,601.52 L936.17,600.00 L937.33,598.48 L938.50,596.96 L939.66,595.45 L940.82,593.94 L941.99,592.43 L943.15,590.92 L944.32,589.42 L945.48,587.92 L946.64,586.43 L947.81,584.94 L948.97,583.46 L950.14,581.98 L951.30,580.52 L952.46,579.06 L953.63,577.60 L954.79,576.16 L955.96,574.72 L957.12,573.29 L958.28,571.87 L959.45,570.46 L960.61,569.05 L961.78,567.65 L962.94,566.26 L964.10,564.87 L965.27,563.49 L966.43,562.12 L967.60,560.76 L968.76,559.40 L969.92,558.05 L971.09,556.71 L972.25,555.38 L973.42,554.05 L974.58,552.73 L975.74,551.42 L976.91,550.11 L978.07,548.81 L979.24,547.52 L980.40,546.24 L981.56,544.96 L982.73,543.69 L983.89,542.42 L985.06,541.17 L986.22,539.92 L987.38,538.68 L988.55,537.44 L989.71,536.22 L990.88,535.00 L992.04,533.79 L993.20,532.59 L994.37,531.39 L995.53,530.20 L996.70,529.03 L997.86,527.85 L999.02,526.69 L1000.19,525.54 L1001.35,524.39 L1002.52,523.25 L1003.68,522.13 L1004.84,521.01 L1006.01,519.89 L1007.17,518.79 L1008.34,517.70 L1009.50,516.61 L1010.66,515.54 L1011.83,514.47 L1012.99,513.41 L1014.16,512.36 L1015.32,511.33 L1016.48,510.30 L1017.65,509.28 L1018.81,508.27 L1019.98,507.27 L1021.14,506.28 L1022.30,505.30 L1023.47,504.32 L1024.63,503.36 L1025.80,502.41 L1026.96,501.47 L1028.12,500.55 L1029.29,499.63 L1030.45,498.72 L1031.62,497.82 L1032.78,496.93 L1033.94,496.06 L1035.11,495.19 L1036.27,494.34 L1037.44,493.50 L1038.60,492.66 L1039.76,491.84 L1040.93,491.03 L1042.09,490.24 L1043.26,489.45 L1044.42,488.67 L1045.58,487.91 L1046.75,487.16 L1047.91,486.42 L1049.08,485.68 L1050.24,484.96 L1051.40,484.25 L1052.57,483.56 L1053.73,482.87 L1054.90,482.19 L1056.06,481.53 L1057.22,480.87 L1058.39,480.23 L1059.55,479.60 L1060.72,478.97 L1061.88,478.36 L1063.04,477.76 L1064.21,477.17 L1065.37,476.59 L1066.54,476.02 L1067.70,475.46 L1068.86,474.91 L1070.03,474.37 L1071.19,473.85 L1072.36,473.33 L1073.52,472.82 L1074.68,472.32 L1075.85,471.83 L1077.01,471.35 L1078.18,470.88 L1079.34,470.42 L1080.50,469.97 L1081.67,469.53 L1082.83,469.09 L1084.00,468.67 L1085.16,468.25 L1086.32,467.84 L1087.49,467.44 L1088.65,467.05 L1089.82,466.66 L1090.98,466.28 L1092.14,465.91 L1093.31,465.55 L1094.47,465.20 L1095.64,464.85 L1096.80,464.51 L1097.96,464.17 L1099.13,463.84 L1100.29,463.52 L1101.46,463.21 L1102.62,462.90 L1103.78,462.59 L1104.95,462.30 L1106.11,462.01 L1107.28,461.72 L1108.44,461.44 L1109.60,461.16 L1110.77,460.90 L1111.93,460.63 L1113.10,460.37 L1114.26,460.12 L1115.42,459.86 L1116.59,459.62 L1117.75,459.38 L1118.92,459.14 L1120.08,458.91 L1121.24,458.68 L1122.41,458.45 L1123.57,458.23 L1124.74,458.01 L1125.90,457.79 L1127.06,457.58 L1128.23,457.37 L1129.39,457.17 L1130.56,456.96 L1131.72,456.76 L1132.88,456.57 L1134.05,456.37 L1135.21,456.18 L1136.38,455.99 L1137.54,455.80 L1138.70,455.62 L1139.87,455.44 L1141.03,455.26 L1142.20,455.08 L1143.36,454.91 L1144.52,454.74 L1145.69,454.57 L1146.85,454.40 L1148.02,454.23 L1149.18,454.07 L1150.34,453.90 L1151.51,453.74 L1152.67,453.59 L1153.84,453.43 L1155.00,453.27 L1156.16,453.12 L1157.33,452.97 L1158.49,452.82 L1159.66,452.67 L1160.82,452.52 L1161.98,452.37 L1163.15,452.23 L1164.31,452.08 L1165.48,451.94 L1166.64,451.80 L1167.80,451.66 L1168.97,451.51 L1170.13,451.37 L1171.30,451.24 L1172.46,451.10 L1173.62,450.96 L1174.79,450.82 L1175.95,450.69 L1177.12,450.55 L1178.28,450.42 L1179.44,450.28 L1180.61,450.14 L1181.77,450.01 L1182.94,449.88 L1184.10,449.74" stroke-width="11"/>
<path d="M136.50,1769.02 L136.99,1762.59 L137.49,1756.64 L137.98,1751.06 L138.47,1745.80 L138.97,1740.79 L139.46,1736.01 L139.95,1731.42 L140.45,1727.00 L140.94,1722.73 L141.43,1718.61 L141.93,1714.60 L142.42,1710.72 L142.91,1706.93 L143.41,1703.25 L143.90,1699.66 L144.39,1696.15 L144.88,1692.72 L145.38,1689.37 L145.87,1686.09 L146.36,1682.88 L146.86,1679.73 L147.35,1676.65 L147.84,1673.62 L148.34,1670.65 L148.83,1667.74 L149.32,1664.88 L149.82,1662.07 L150.31,1659.30 L150.80,1656.59 L151.30,1653.93 L151.79,1651.31 L152.28,1648.74 L152.78,1646.22 L153.27,1643.75 L153.76,1641.32 L154.26,1638.94 L154.75,1636.61 L155.24,1634.32 L155.74,1632.08 L156.23,1629.88 L156.72,1627.72 L157.22,1625.61 L157.71,1623.55 L158.20,1621.52 L158.69,1619.53 L159.19,1617.58 L159.68,1615.66 L160.17,1613.77 L160.67,1611.92 L161.16,1610.10 L161.65,1608.31 L162.15,1606.55 L162.64,1604.81 L163.13,1603.10 L163.63,1601.42 L164.12,1599.76 L164.61,1598.12 L165.11,1596.50 L165.60,1594.91 L166.18,1593.06 L167.28,1589.63 L168.38,1586.29 L169.48,1583.03 L170.57,1579.84 L171.67,1576.71 L172.77,1573.64 L173.87,1570.62 L174.96,1567.64 L176.06,1564.70 L177.16,1561.79 L178.26,1558.91 L179.35,1556.06 L180.45,1553.24 L181.55,1550.44 L182.65,1547.68 L183.75,1544.93 L184.84,1542.22 L185.94,1539.53 L187.04,1536.86 L188.14,1534.21 L189.23,1531.59 L190.33,1528.98 L191.43,1526.40 L192.53,1523.84 L193.62,1521.30 L194.72,1518.77 L195.82,1516.27 L196.92,1513.78 L198.02,1511.31 L199.11,1508.86 L200.21,1506.42 L201.31,1504.00 L202.41,1501.59 L203.50,1499.20 L204.60,1496.83 L205.70,1494.47 L206.80,1492.12 L207.89,1489.79 L208.99,1487.47 L210.09,1485.17 L211.19,1482.88 L212.29,1480.60 L213.38,1478.33 L214.48,1476.07 L215.58,1473.83 L216.68,1471.59 L217.77,1469.37 L218.87,1467.16 L219.97,1464.96 L221.07,1462.77 L222.16,1460.59 L223.26,1458.41 L224.36,1456.25 L225.46,1454.09 L226.56,1451.95 L227.65,1449.81 L228.75,1447.68 L229.85,1445.56 L230.95,1443.44 L232.04,1441.33 L233.14,1439.23 L234.24,1437.14 L235.34,1435.05 L236.43,1432.97 L237.53,1430.90 L238.63,1428.83 L239.73,1426.77 L240.83,1424.72 L241.92,1422.68 L243.02,1420.64 L244.12,1418.62 L245.22,1416.60 L246.31,1414.58 L247.41,1412.58 L248.51,1410.58 L249.61,1408.59 L250.70,1406.61 L251.80,1404.64 L252.90,1402.68 L254.06,1400.60 L255.23,1398.54 L256.39,1396.48 L257.56,1394.44 L258.72,1392.40 L259.88,1390.38 L261.05,1388.36 L262.21,1386.35 L263.38,1384.35 L264.54,1382.37 L265.70,1380.39 L266.87,1378.42 L268.03,1376.46 L269.20,1374.52 L270.36,1372.58 L271.52,1370.65 L272.69,1368.74 L273.85,1366.83 L275.02,1364.93 L276.18,1363.05 L277.34,1361.17 L278.51,1359.31 L279.67,1357.45 L280.84,1355.61 L282.00,1353.78 L283.16,1351.96 L284.33,1350.16 L285.49,1348.38 L286.66,1346.60 L287.82,1344.85 L288.98,1343.11 L290.15,1341.38 L291.31,1339.68 L292.48,1337.98 L293.64,1336.30 L294.80,1334.64 L295.97,1332.99 L297.13,1331.35 L298.30,1329.72 L299.46,1328.11 L300.62,1326.50 L301.79,1324.91 L302.95,1323.32 L304.12,1321.75 L305.28,1320.18 L306.44,1318.62 L307.61,1317.07 L308.77,1315.53 L309.94,1313.99 L311.10,1312.46 L312.26,1310.93 L313.43,1309.41 L314.59,1307.89 L315.76,1306.37 L316.92,1304.86 L318.08,1303.35 L319.25,1301.85 L320.41,1300.34 L321.58,1298.84 L322.74,1297.33 L323.90,1295.83 L325.07,1294.33 L326.23,1292.82 L327.40,1291.32 L328.56,1289.81 L329.72,1288.30 L330.89,1286.79 L332.05,1285.27 L333.22,1283.75 L334.38,1282.23 L335.54,1280.70 L336.71,1279.17 L337.87,1277.63 L339.04,1276.10 L340.20,1274.56 L341.36,1273.01 L342.53,1271.47 L343.69,1269.94 L344.86,1268.40 L346.02,1266.87 L347.18,1265.34 L348.35,1263.82 L349.51,1262.31 L350.68,1260.80 L351.84,1259.30 L353.00,1257.81 L354.17,1256.33 L355.33,1254.85 L356.50,1253.38 L357.66,1251.91 L358.82,1250.45 L359.99,1248.99 L361.15,1247.55 L362.32,1246.10 L363.48,1244.66 L364.64,1243.23 L365.81,1241.80 L366.97,1240.37 L368.14,1238.95 L369.30,1237.53 L370.46,1236.11 L371.63,1234.70 L372.79,1233.30 L373.96,1231.89 L375.12,1230.49 L376.28,1229.09 L377.45,1227.70 L378.61,1226.31 L379.78,1224.92 L380.94,1223.53 L382.10,1222.15 L383.27,1220.77 L384.43,1219.39 L385.60,1218.02 L386.76,1216.64 L387.92,1215.28 L389.09,1213.91 L390.25,1212.55 L391.42,1211.18 L392.58,1209.82 L393.74,1208.47 L394.91,1207.11 L396.07,1205.76 L397.24,1204.41 L398.40,1203.06 L399.56,1201.72 L400.73,1200.37 L401.89,1199.03 L403.06,1197.69 L404.22,1196.35 L405.38,1195.01 L406.55,1193.68 L407.71,1192.34 L408.88,1191.01 L410.04,1189.68 L411.20,1188.35 L412.37,1187.02 L413.53,1185.70 L414.70,1184.37 L415.86,1183.05 L417.02,1181.72 L418.19,1180.40 L419.35,1179.08 L420.52,1177.76 L421.68,1176.44 L422.84,1175.13 L424.01,1173.81 L425.17,1172.49 L426.34,1171.18 L427.50,1169.87 L428.66,1168.55 L429.83,1167.24 L430.99,1165.93 L432.16,1164.62 L433.32,1163.30 L434.48,1161.99 L435.65,1160.69 L436.81,1159.38 L437.98,1158.07 L439.14,1156.76 L440.30,1155.46 L441.47,1154.15 L442.63,1152.85 L443.80,1151.54 L444.96,1150.24 L446.12,1148.94 L447.29,1147.63 L448.45,1146.33 L449.62,1145.03 L450.78,1143.73 L451.94,1142.44 L453.11,1141.14 L454.27,1139.84 L455.44,1138.55 L456.60,1137.25 L457.76,1135.96 L458.93,1134.66 L460.09,1133.37 L461.26,1132.08 L462.42,1130.79 L463.58,1129.50 L464.75,1128.21 L465.91,1126.92 L467.08,1125.64 L468.24,1124.35 L469.40,1123.07 L470.57,1121.78 L471.73,1120.50 L472.90,1119.22 L474.06,1117.94 L475.22,1116.66 L476.39,1115.38 L477.55,1114.10 L478.72,1112.82 L479.88,1111.55 L481.04,1110.27 L482.21,1109.00 L483.37,1107.73 L484.54,1106.45 L485.70,1105.18 L486.86,1103.91 L488.03,1102.64 L489.19,1101.38 L490.36,1100.11 L491.52,1098.84 L492.68,1097.58 L493.85,1096.32 L495.01,1095.06 L496.18,1093.80 L497.34,1092.54 L498.50,1091.28 L499.67,1090.02 L500.83,1088.77 L502.00,1087.52 L503.16,1086.26 L504.32,1085.01 L505.49,1083.76 L506.65,1082.52 L507.82,1081.27 L508.98,1080.03 L510.14,1078.78 L511.31,1077.54 L512.47,1076.30 L513.64,1075.07 L514.80,1073.83 L515.96,1072.60 L517.13,1071.37 L518.29,1070.14 L519.46,1068.91 L520.62,1067.68 L521.78,1066.46 L522.95,1065.23 L524.11,1064.01 L525.28,1062.80 L526.44,1061.58 L527.60,1060.37 L528.77,1059.15 L529.93,1057.94 L531.10,1056.74 L532.26,1055.53 L533.42,1054.33 L534.59,1053.13 L535.75,1051.93 L536.92,1050.73 L538.08,1049.54 L539.24,1048.34 L540.41,1047.15 L541.57,1045.97 L542.74,1044.78 L543.90,1043.60 L545.06,1042.42 L546.23,1041.24 L547.39,1040.07 L548.56,1038.90 L549.72,1037.73 L550.88,1036.56 L552.05,1035.39 L553.21,1034.23 L554.38,1033.07 L555.54,1031.91 L556.70,1030.76 L557.87,1029.60 L559.03,1028.45 L560.20,1027.30 L561.36,1026.16 L562.52,1025.01 L563.69,1023.87 L564.85,1022.73 L566.02,1021.59 L567.18,1020.46 L568.34,1019.32 L569.51,1018.19 L570.67,1017.06 L571.84,1015.94 L573.00,1014.81 L574.16,1013.69 L575.33,1012.57 L576.49,1011.45 L577.66,1010.33 L578.82,1009.22 L579.98,1008.11 L581.15,1007.00 L582.31,1005.89 L583.48,1004.78 L584.64,1003.68 L585.80,1002.57 L586.97,1001.47 L588.13,1000.37 L589.30,999.28 L590.46,998.18 L591.62,997.09 L592.79,996.00 L593.95,994.91 L595.12,993.82 L596.28,992.74 L597.44,991.65 L598.61,990.57 L599.77,989.49 L600.94,988.41 L602.10,987.33 L603.26,986.26 L604.43,985.19 L605.59,984.11 L606.76,983.04 L607.92,981.98 L609.08,980.91 L610.25,979.85 L611.41,978.78 L612.58,977.72 L613.74,976.67 L614.90,975.61 L616.07,974.56 L617.23,973.50 L618.40,972.45 L619.56,971.40 L620.72,970.36 L621.89,969.31 L623.05,968.27 L624.22,967.23 L625.38,966.20 L626.54,965.16 L627.71,964.13 L628.87,963.10 L630.04,962.07 L631.20,961.04 L632.36,960.02 L633.53,959.00 L634.69,957.98 L635.86,956.96 L637.02,955.95 L638.18,954.94 L639.35,953.93 L640.51,952.92 L641.68,951.92 L642.84,950.92 L644.00,949.92 L645.17,948.92 L646.33,947.93 L647.50,946.94 L648.66,945.95 L649.82,944.96 L650.99,943.98 L652.15,943.00 L653.32,942.02 L654.48,941.05 L655.64,940.07 L656.81,939.10 L657.97,938.14 L659.14,937.17 L660.30,936.21 L661.46,935.26 L662.63,934.30 L663.79,933.35 L664.96,932.40 L666.12,931.45 L667.28,930.50 L668.45,929.56 L669.61,928.62 L670.78,927.67 L671.94,926.73 L673.10,925.79 L674.27,924.85 L675.43,923.91 L676.60,922.96 L677.76,922.02 L678.92,921.08 L680.09,920.14 L681.25,919.19 L682.42,918.25 L683.58,917.30 L684.74,916.35 L685.91,915.40 L687.07,914.45 L688.24,913.49 L689.40,912.53 L690.56,911.57 L691.73,910.61 L692.89,909.64 L694.06,908.67 L695.22,907.70 L696.38,906.72 L697.55,905.74 L698.71,904.76 L699.88,903.78 L701.04,902.79 L702.20,901.81 L703.37,900.81 L704.53,899.82 L705.70,898.83 L706.86,897.83 L708.02,896.83 L709.19,895.83 L710.35,894.83 L711.52,893.82 L712.68,892.81 L713.84,891.80 L715.01,890.79 L716.17,889.78 L717.34,888.77 L718.50,887.75 L719.66,886.73 L720.83,885.71 L721.99,884.69 L723.16,883.67 L724.32,882.65 L725.48,881.62 L726.65,880.59 L727.81,879.57 L728.98,878.54 L730.14,877.51 L731.30,876.48 L732.47,875.45 L733.63,874.42 L734.80,873.38 L735.96,872.35 L737.12,871.32 L738.29,870.28 L739.45,869.25 L740.62,868.21 L741.78,867.18 L742.94,866.14 L744.11,865.11 L745.27,864.07 L746.44,863.04 L747.60,862.00 L748.76,860.97 L749.93,859.93 L751.09,858.90 L752.26,857.86 L753.42,856.82 L754.58,855.79 L755.75,854.75 L756.91,853.71 L758.08,852.67 L759.24,851.62 L760.40,850.58 L761.57,849.53 L762.73,848.49 L763.90,847.44 L765.06,846.38 L766.22,845.33 L767.39,844.27 L768.55,843.21 L769.72,842.15 L770.88,841.08 L772.04,840.01 L773.21,838.93 L774.37,837.85 L775.54,836.77 L776.70,835.68 L777.86,834.59 L779.03,833.50 L780.19,832.40 L781.36,831.29 L782.52,830.19 L783.68,829.08 L784.85,827.96 L786.01,826.84 L787.18,825.72 L788.34,824.59 L789.50,823.46 L790.67,822.33 L791.83,821.19 L793.00,820.05 L794.16,818.90 L795.32,817.76 L796.49,816.61 L797.65,815.45 L798.82,814.30 L799.98,813.14 L801.14,811.98 L802.31,810.81 L803.47,809.64 L804.64,808.47 L805.80,807.30 L806.96,806.13 L808.13,804.95 L809.29,803.77 L810.46,802.59 L811.62,801.40 L812.78,800.21 L813.95,799.02 L815.11,797.83 L816.28,796.63 L817.44,795.43 L818.60,794.22 L819.77,793.01 L820.93,791.80 L822.10,790.59 L823.26,789.36 L824.42,788.14 L825.59,786.91 L826.75,785.68 L827.92,784.44 L829.08,783.20 L830.24,781.95 L831.41,780.69 L832.57,779.44 L833.74,778.17 L834.90,776.91 L836.06,775.63 L837.23,774.35 L838.39,773.07 L839.56,771.78 L840.72,770.49 L841.88,769.19 L843.05,767.89 L844.21,766.58 L845.38,765.27 L846.54,763.96 L847.70,762.64 L848.87,761.32 L850.03,760.00 L851.20,758.67 L852.36,757.35 L853.52,756.01 L854.69,754.68 L855.85,753.34 L857.02,752.00 L858.18,750.66 L859.34,749.32 L860.51,747.98 L861.67,746.64 L862.84,745.29 L864.00,743.94 L865.16,742.60 L866.33,741.25 L867.49,739.90 L868.66,738.55 L869.82,737.20 L870.98,735.85 L872.15,734.50 L873.31,733.15 L874.48,731.80 L875.64,730.45 L876.80,729.09 L877.97,727.74 L879.13,726.39 L880.30,725.04 L881.46,723.69 L882.62,722.34 L883.79,720.98 L884.95,719.63 L886.12,718.28 L887.28,716.93 L888.44,715.58 L889.61,714.23 L890.77,712.88 L891.94,711.54 L893.10,710.19 L894.26,708.84 L895.43,707.50 L896.59,706.15 L897.76,704.80 L898.92,703.45 L900.08,702.10 L901.25,700.74 L902.41,699.39 L903.58,698.02 L904.74,696.66 L905.90,695.29 L907.07,693.91 L908.23,692.53 L909.40,691.14 L910.56,689.74 L911.72,688.33 L912.89,686.92 L914.05,685.50 L915.22,684.07 L916.38,682.63 L917.54,681.17 L918.71,679.71 L919.87,678.23 L921.04,676.75 L922.20,675.25 L923.36,673.73 L924.53,672.20 L925.69,670.67 L926.86,669.12 L928.02,667.56 L929.18,665.99 L930.35,664.41 L931.51,662.83 L932.68,661.24 L933.84,659.64 L935.00,658.04 L936.17,656.44 L937.33,654.83 L938.50,653.22 L939.66,651.61 L940.82,649.99 L941.99,648.38 L943.15,646.77 L944.32,645.16 L945.48,643.56 L946.64,641.96 L947.81,640.36 L948.97,638.77 L950.14,637.18 L951.30,635.60 L952.46,634.03 L953.63,632.47 L954.79,630.91 L955.96,629.37 L957.12,627.83 L958.28,626.30 L959.45,624.78 L960.61,623.27 L961.78,621.77 L962.94,620.27 L964.10,618.79 L965.27,617.31 L966.43,615.85 L967.60,614.39 L968.76,612.95 L969.92,611.51 L971.09,610.08 L972.25,608.67 L973.42,607.26 L974.58,605.86 L975.74,604.48 L976.91,603.10 L978.07,601.74 L979.24,600.38 L980.40,599.04 L981.56,597.70 L982.73,596.38 L983.89,595.07 L985.06,593.77 L986.22,592.48 L987.38,591.20 L988.55,589.93 L989.71,588.67 L990.88,587.43 L992.04,586.19 L993.20,584.96 L994.37,583.74 L995.53,582.53 L996.70,581.33 L997.86,580.15 L999.02,578.97 L1000.19,577.80 L1001.35,576.64 L1002.52,575.48 L1003.68,574.34 L1004.84,573.21 L1006.01,572.09 L1007.17,570.97 L1008.34,569.86 L1009.50,568.77 L1010.66,567.68 L1011.83,566.60 L1012.99,565.53 L1014.16,564.47 L1015.32,563.41 L1016.48,562.37 L1017.65,561.34 L1018.81,560.31 L1019.98,559.30 L1021.14,558.29 L1022.30,557.30 L1023.47,556.31 L1024.63,555.34 L1025.80,554.37 L1026.96,553.42 L1028.12,552.47 L1029.29,551.54 L1030.45,550.61 L1031.62,549.70 L1032.78,548.80 L1033.94,547.91 L1035.11,547.02 L1036.27,546.16 L1037.44,545.30 L1038.60,544.45 L1039.76,543.61 L1040.93,542.79 L1042.09,541.98 L1043.26,541.17 L1044.42,540.38 L1045.58,539.60 L1046.75,538.83 L1047.91,538.07 L1049.08,537.33 L1050.24,536.59 L1051.40,535.86 L1052.57,535.14 L1053.73,534.44 L1054.90,533.74 L1056.06,533.05 L1057.22,532.37 L1058.39,531.71 L1059.55,531.05 L1060.72,530.40 L1061.88,529.76 L1063.04,529.13 L1064.21,528.51 L1065.37,527.90 L1066.54,527.30 L1067.70,526.70 L1068.86,526.12 L1070.03,525.54 L1071.19,524.97 L1072.36,524.42 L1073.52,523.87 L1074.68,523.32 L1075.85,522.79 L1077.01,522.26 L1078.18,521.75 L1079.34,521.24 L1080.50,520.74 L1081.67,520.24 L1082.83,519.76 L1084.00,519.28 L1085.16,518.81 L1086.32,518.35 L1087.49,517.89 L1088.65,517.45 L1089.82,517.01 L1090.98,516.57 L1092.14,516.15 L1093.31,515.73 L1094.47,515.32 L1095.64,514.91 L1096.80,514.52 L1097.96,514.12 L1099.13,513.74 L1100.29,513.36 L1101.46,512.99 L1102.62,512.63 L1103.78,512.27 L1104.95,511.92 L1106.11,511.57 L1107.28,511.23 L1108.44,510.90 L1109.60,510.57 L1110.77,510.25 L1111.93,509.94 L1113.10,509.63 L1114.26,509.32 L1115.42,509.03 L1116.59,508.73 L1117.75,508.45 L1118.92,508.17 L1120.08,507.89 L1121.24,507.62 L1122.41,507.35 L1123.57,507.09 L1124.74,506.84 L1125.90,506.58 L1127.06,506.34 L1128.23,506.10 L1129.39,505.86 L1130.56,505.63 L1131.72,505.40 L1132.88,505.18 L1134.05,504.96 L1135.21,504.74 L1136.38,504.53 L1137.54,504.33 L1138.70,504.12 L1139.87,503.92 L1141.03,503.73 L1142.20,503.54 L1143.36,503.35 L1144.52,503.16 L1145.69,502.98 L1146.85,502.80 L1148.02,502.63 L1149.18,502.46 L1150.34,502.29 L1151.51,502.12 L1152.67,501.96 L1153.84,501.80 L1155.00,501.64 L1156.16,501.48 L1157.33,501.33 L1158.49,501.17 L1159.66,501.02 L1160.82,500.88 L1161.98,500.73 L1163.15,500.59 L1164.31,500.44 L1165.48,500.30 L1166.64,500.17 L1167.80,500.03 L1168.97,499.89 L1170.13,499.76 L1171.30,499.62 L1172.46,499.49 L1173.62,499.36 L1174.79,499.23 L1175.95,499.10 L1177.12,498.97 L1178.28,498.84 L1179.44,498.71 L1180.61,498.58 L1181.77,498.45 L1182.94,498.33 L1184.10,498.20" stroke-width="1.5" stroke-dasharray="13 7"/>
<path d="M136.50,1782.30 L136.99,1776.04 L137.49,1770.25 L137.98,1764.82 L138.47,1759.70 L138.97,1754.82 L139.46,1750.16 L139.95,1745.69 L140.45,1741.38 L140.94,1737.21 L141.43,1733.18 L141.93,1729.27 L142.42,1725.47 L142.91,1721.76 L143.41,1718.16 L143.90,1714.63 L144.39,1711.19 L144.88,1707.83 L145.38,1704.54 L145.87,1701.31 L146.36,1698.15 L146.86,1695.05 L147.35,1692.00 L147.84,1689.01 L148.34,1686.08 L148.83,1683.19 L149.32,1680.35 L149.82,1677.56 L150.31,1674.82 L150.80,1672.12 L151.30,1669.46 L151.79,1666.84 L152.28,1664.26 L152.78,1661.72 L153.27,1659.21 L153.76,1656.75 L154.26,1654.32 L154.75,1651.94 L155.24,1649.59 L155.74,1647.28 L156.23,1645.01 L156.72,1642.77 L157.22,1640.58 L157.71,1638.42 L158.20,1636.31 L158.69,1634.23 L159.19,1632.19 L159.68,1630.20 L160.17,1628.24 L160.67,1626.32 L161.16,1624.43 L161.65,1622.58 L162.15,1620.77 L162.64,1618.99 L163.13,1617.24 L163.63,1615.52 L164.12,1613.83 L164.61,1612.16 L165.11,1610.53 L165.60,1608.92 L166.18,1607.06 L167.28,1603.63 L168.38,1600.31 L169.48,1597.10 L170.57,1593.97 L171.67,1590.94 L172.77,1587.98 L173.87,1585.09 L174.96,1582.27 L176.06,1579.50 L177.16,1576.79 L178.26,1574.13 L179.35,1571.50 L180.45,1568.92 L181.55,1566.36 L182.65,1563.84 L183.75,1561.34 L184.84,1558.86 L185.94,1556.40 L187.04,1553.96 L188.14,1551.54 L189.23,1549.14 L190.33,1546.76 L191.43,1544.39 L192.53,1542.03 L193.62,1539.69 L194.72,1537.37 L195.82,1535.05 L196.92,1532.75 L198.02,1530.47 L199.11,1528.19 L200.21,1525.93 L201.31,1523.68 L202.41,1521.45 L203.50,1519.22 L204.60,1517.00 L205.70,1514.80 L206.80,1512.61 L207.89,1510.42 L208.99,1508.25 L210.09,1506.09 L211.19,1503.93 L212.29,1501.79 L213.38,1499.66 L214.48,1497.53 L215.58,1495.42 L216.68,1493.31 L217.77,1491.21 L218.87,1489.12 L219.97,1487.04 L221.07,1484.97 L222.16,1482.90 L223.26,1480.85 L224.36,1478.80 L225.46,1476.76 L226.56,1474.73 L227.65,1472.71 L228.75,1470.70 L229.85,1468.70 L230.95,1466.71 L232.04,1464.72 L233.14,1462.75 L234.24,1460.79 L235.34,1458.83 L236.43,1456.89 L237.53,1454.95 L238.63,1453.01 L239.73,1451.08 L240.83,1449.16 L241.92,1447.24 L243.02,1445.32 L244.12,1443.41 L245.22,1441.49 L246.31,1439.58 L247.41,1437.67 L248.51,1435.76 L249.61,1433.86 L250.70,1431.96 L251.80,1430.06 L252.90,1428.16 L254.06,1426.15 L255.23,1424.15 L256.39,1422.15 L257.56,1420.15 L258.72,1418.16 L259.88,1416.17 L261.05,1414.18 L262.21,1412.20 L263.38,1410.23 L264.54,1408.25 L265.70,1406.29 L266.87,1404.33 L268.03,1402.37 L269.20,1400.42 L270.36,1398.48 L271.52,1396.54 L272.69,1394.60 L273.85,1392.68 L275.02,1390.76 L276.18,1388.84 L277.34,1386.93 L278.51,1385.03 L279.67,1383.14 L280.84,1381.25 L282.00,1379.37 L283.16,1377.50 L284.33,1375.63 L285.49,1373.78 L286.66,1371.94 L287.82,1370.11 L288.98,1368.29 L290.15,1366.49 L291.31,1364.70 L292.48,1362.93 L293.64,1361.17 L294.80,1359.43 L295.97,1357.71 L297.13,1355.99 L298.30,1354.29 L299.46,1352.61 L300.62,1350.94 L301.79,1349.28 L302.95,1347.63 L304.12,1346.00 L305.28,1344.38 L306.44,1342.77 L307.61,1341.17 L308.77,1339.58 L309.94,1338.00 L311.10,1336.44 L312.26,1334.88 L313.43,1333.34 L314.59,1331.80 L315.76,1330.27 L316.92,1328.75 L318.08,1327.24 L319.25,1325.74 L320.41,1324.25 L321.58,1322.76 L322.74,1321.28 L323.90,1319.81 L325.07,1318.35 L326.23,1316.89 L327.40,1315.44 L328.56,1314.00 L329.72,1312.56 L330.89,1311.13 L332.05,1309.70 L333.22,1308.28 L334.38,1306.86 L335.54,1305.45 L336.71,1304.04 L337.87,1302.63 L339.04,1301.23 L340.20,1299.84 L341.36,1298.44 L342.53,1297.05 L343.69,1295.67 L344.86,1294.28 L346.02,1292.90 L347.18,1291.52 L348.35,1290.14 L349.51,1288.76 L350.68,1287.39 L351.84,1286.02 L353.00,1284.64 L354.17,1283.27 L355.33,1281.90 L356.50,1280.53 L357.66,1279.16 L358.82,1277.79 L359.99,1276.42 L361.15,1275.06 L362.32,1273.69 L363.48,1272.32 L364.64,1270.96 L365.81,1269.59 L366.97,1268.23 L368.14,1266.86 L369.30,1265.50 L370.46,1264.14 L371.63,1262.78 L372.79,1261.42 L373.96,1260.06 L375.12,1258.70 L376.28,1257.34 L377.45,1255.99 L378.61,1254.63 L379.78,1253.28 L380.94,1251.93 L382.10,1250.58 L383.27,1249.23 L384.43,1247.88 L385.60,1246.53 L386.76,1245.19 L387.92,1243.85 L389.09,1242.51 L390.25,1241.17 L391.42,1239.83 L392.58,1238.49 L393.74,1237.16 L394.91,1235.83 L396.07,1234.50 L397.24,1233.17 L398.40,1231.84 L399.56,1230.52 L400.73,1229.19 L401.89,1227.87 L403.06,1226.55 L404.22,1225.24 L405.38,1223.92 L406.55,1222.61 L407.71,1221.30 L408.88,1220.00 L410.04,1218.69 L411.20,1217.39 L412.37,1216.09 L413.53,1214.79 L414.70,1213.50 L415.86,1212.21 L417.02,1210.92 L418.19,1209.63 L419.35,1208.35 L420.52,1207.07 L421.68,1205.79 L422.84,1204.51 L424.01,1203.24 L425.17,1201.97 L426.34,1200.70 L427.50,1199.44 L428.66,1198.18 L429.83,1196.92 L430.99,1195.67 L432.16,1194.42 L433.32,1193.17 L434.48,1191.92 L435.65,1190.67 L436.81,1189.43 L437.98,1188.19 L439.14,1186.96 L440.30,1185.72 L441.47,1184.49 L442.63,1183.26 L443.80,1182.03 L444.96,1180.80 L446.12,1179.57 L447.29,1178.35 L448.45,1177.13 L449.62,1175.91 L450.78,1174.69 L451.94,1173.47 L453.11,1172.25 L454.27,1171.04 L455.44,1169.82 L456.60,1168.61 L457.76,1167.40 L458.93,1166.18 L460.09,1164.97 L461.26,1163.76 L462.42,1162.55 L463.58,1161.35 L464.75,1160.14 L465.91,1158.93 L467.08,1157.72 L468.24,1156.51 L469.40,1155.31 L470.57,1154.10 L471.73,1152.89 L472.90,1151.68 L474.06,1150.48 L475.22,1149.27 L476.39,1148.06 L477.55,1146.85 L478.72,1145.65 L479.88,1144.44 L481.04,1143.23 L482.21,1142.02 L483.37,1140.81 L484.54,1139.59 L485.70,1138.38 L486.86,1137.17 L488.03,1135.95 L489.19,1134.74 L490.36,1133.52 L491.52,1132.31 L492.68,1131.09 L493.85,1129.87 L495.01,1128.65 L496.18,1127.44 L497.34,1126.22 L498.50,1125.00 L499.67,1123.78 L500.83,1122.56 L502.00,1121.34 L503.16,1120.12 L504.32,1118.90 L505.49,1117.68 L506.65,1116.47 L507.82,1115.25 L508.98,1114.03 L510.14,1112.81 L511.31,1111.60 L512.47,1110.38 L513.64,1109.16 L514.80,1107.95 L515.96,1106.73 L517.13,1105.52 L518.29,1104.31 L519.46,1103.10 L520.62,1101.89 L521.78,1100.68 L522.95,1099.47 L524.11,1098.26 L525.28,1097.06 L526.44,1095.85 L527.60,1094.65 L528.77,1093.45 L529.93,1092.25 L531.10,1091.05 L532.26,1089.85 L533.42,1088.65 L534.59,1087.46 L535.75,1086.27 L536.92,1085.08 L538.08,1083.89 L539.24,1082.70 L540.41,1081.52 L541.57,1080.34 L542.74,1079.16 L543.90,1077.98 L545.06,1076.81 L546.23,1075.63 L547.39,1074.46 L548.56,1073.29 L549.72,1072.13 L550.88,1070.97 L552.05,1069.80 L553.21,1068.65 L554.38,1067.49 L555.54,1066.34 L556.70,1065.18 L557.87,1064.04 L559.03,1062.89 L560.20,1061.75 L561.36,1060.60 L562.52,1059.47 L563.69,1058.33 L564.85,1057.20 L566.02,1056.07 L567.18,1054.94 L568.34,1053.81 L569.51,1052.69 L570.67,1051.57 L571.84,1050.45 L573.00,1049.34 L574.16,1048.22 L575.33,1047.11 L576.49,1046.01 L577.66,1044.90 L578.82,1043.80 L579.98,1042.70 L581.15,1041.61 L582.31,1040.52 L583.48,1039.43 L584.64,1038.34 L585.80,1037.26 L586.97,1036.18 L588.13,1035.10 L589.30,1034.02 L590.46,1032.95 L591.62,1031.88 L592.79,1030.81 L593.95,1029.75 L595.12,1028.69 L596.28,1027.63 L597.44,1026.58 L598.61,1025.53 L599.77,1024.48 L600.94,1023.44 L602.10,1022.39 L603.26,1021.36 L604.43,1020.32 L605.59,1019.29 L606.76,1018.26 L607.92,1017.23 L609.08,1016.21 L610.25,1015.19 L611.41,1014.17 L612.58,1013.16 L613.74,1012.14 L614.90,1011.13 L616.07,1010.13 L617.23,1009.12 L618.40,1008.12 L619.56,1007.12 L620.72,1006.13 L621.89,1005.13 L623.05,1004.14 L624.22,1003.15 L625.38,1002.17 L626.54,1001.18 L627.71,1000.20 L628.87,999.22 L630.04,998.24 L631.20,997.27 L632.36,996.29 L633.53,995.32 L634.69,994.35 L635.86,993.38 L637.02,992.42 L638.18,991.46 L639.35,990.49 L640.51,989.53 L641.68,988.58 L642.84,987.62 L644.00,986.67 L645.17,985.71 L646.33,984.76 L647.50,983.81 L648.66,982.86 L649.82,981.92 L650.99,980.97 L652.15,980.03 L653.32,979.09 L654.48,978.15 L655.64,977.21 L656.81,976.27 L657.97,975.33 L659.14,974.40 L660.30,973.46 L661.46,972.53 L662.63,971.60 L663.79,970.67 L664.96,969.74 L666.12,968.81 L667.28,967.88 L668.45,966.95 L669.61,966.02 L670.78,965.09 L671.94,964.17 L673.10,963.24 L674.27,962.31 L675.43,961.38 L676.60,960.46 L677.76,959.53 L678.92,958.60 L680.09,957.67 L681.25,956.75 L682.42,955.82 L683.58,954.89 L684.74,953.95 L685.91,953.02 L687.07,952.09 L688.24,951.16 L689.40,950.22 L690.56,949.28 L691.73,948.35 L692.89,947.41 L694.06,946.47 L695.22,945.53 L696.38,944.59 L697.55,943.64 L698.71,942.70 L699.88,941.75 L701.04,940.81 L702.20,939.86 L703.37,938.91 L704.53,937.96 L705.70,937.02 L706.86,936.07 L708.02,935.12 L709.19,934.16 L710.35,933.21 L711.52,932.26 L712.68,931.31 L713.84,930.36 L715.01,929.40 L716.17,928.45 L717.34,927.50 L718.50,926.54 L719.66,925.59 L720.83,924.63 L721.99,923.68 L723.16,922.72 L724.32,921.77 L725.48,920.81 L726.65,919.85 L727.81,918.89 L728.98,917.93 L730.14,916.97 L731.30,916.01 L732.47,915.05 L733.63,914.08 L734.80,913.11 L735.96,912.14 L737.12,911.17 L738.29,910.20 L739.45,909.22 L740.62,908.25 L741.78,907.27 L742.94,906.28 L744.11,905.30 L745.27,904.31 L746.44,903.32 L747.60,902.32 L748.76,901.32 L749.93,900.32 L751.09,899.32 L752.26,898.31 L753.42,897.31 L754.58,896.30 L755.75,895.28 L756.91,894.27 L758.08,893.25 L759.24,892.24 L760.40,891.22 L761.57,890.20 L762.73,889.18 L763.90,888.16 L765.06,887.14 L766.22,886.12 L767.39,885.09 L768.55,884.07 L769.72,883.05 L770.88,882.03 L772.04,881.01 L773.21,880.00 L774.37,878.98 L775.54,877.96 L776.70,876.95 L777.86,875.94 L779.03,874.93 L780.19,873.92 L781.36,872.91 L782.52,871.90 L783.68,870.89 L784.85,869.88 L786.01,868.86 L787.18,867.85 L788.34,866.83 L789.50,865.81 L790.67,864.79 L791.83,863.77 L793.00,862.74 L794.16,861.70 L795.32,860.67 L796.49,859.62 L797.65,858.57 L798.82,857.52 L799.98,856.46 L801.14,855.39 L802.31,854.31 L803.47,853.23 L804.64,852.14 L805.80,851.03 L806.96,849.93 L808.13,848.81 L809.29,847.68 L810.46,846.54 L811.62,845.40 L812.78,844.25 L813.95,843.09 L815.11,841.92 L816.28,840.75 L817.44,839.57 L818.60,838.38 L819.77,837.19 L820.93,835.99 L822.10,834.78 L823.26,833.57 L824.42,832.35 L825.59,831.13 L826.75,829.90 L827.92,828.67 L829.08,827.43 L830.24,826.19 L831.41,824.94 L832.57,823.69 L833.74,822.43 L834.90,821.17 L836.06,819.91 L837.23,818.64 L838.39,817.38 L839.56,816.10 L840.72,814.83 L841.88,813.55 L843.05,812.27 L844.21,810.99 L845.38,809.71 L846.54,808.42 L847.70,807.13 L848.87,805.84 L850.03,804.55 L851.20,803.26 L852.36,801.96 L853.52,800.67 L854.69,799.37 L855.85,798.07 L857.02,796.78 L858.18,795.48 L859.34,794.18 L860.51,792.88 L861.67,791.58 L862.84,790.28 L864.00,788.98 L865.16,787.69 L866.33,786.39 L867.49,785.09 L868.66,783.79 L869.82,782.50 L870.98,781.20 L872.15,779.91 L873.31,778.61 L874.48,777.32 L875.64,776.02 L876.80,774.73 L877.97,773.44 L879.13,772.15 L880.30,770.86 L881.46,769.56 L882.62,768.27 L883.79,766.99 L884.95,765.70 L886.12,764.41 L887.28,763.12 L888.44,761.83 L889.61,760.55 L890.77,759.26 L891.94,757.98 L893.10,756.69 L894.26,755.41 L895.43,754.13 L896.59,752.85 L897.76,751.56 L898.92,750.28 L900.08,748.99 L901.25,747.70 L902.41,746.41 L903.58,745.12 L904.74,743.82 L905.90,742.52 L907.07,741.21 L908.23,739.90 L909.40,738.58 L910.56,737.26 L911.72,735.93 L912.89,734.59 L914.05,733.25 L915.22,731.90 L916.38,730.54 L917.54,729.17 L918.71,727.80 L919.87,726.41 L921.04,725.01 L922.20,723.61 L923.36,722.19 L924.53,720.76 L925.69,719.32 L926.86,717.88 L928.02,716.42 L929.18,714.96 L930.35,713.48 L931.51,712.01 L932.68,710.52 L933.84,709.03 L935.00,707.54 L936.17,706.04 L937.33,704.53 L938.50,703.03 L939.66,701.52 L940.82,700.00 L941.99,698.49 L943.15,696.98 L944.32,695.46 L945.48,693.95 L946.64,692.43 L947.81,690.92 L948.97,689.41 L950.14,687.90 L951.30,686.40 L952.46,684.90 L953.63,683.40 L954.79,681.90 L955.96,680.42 L957.12,678.93 L958.28,677.45 L959.45,675.98 L960.61,674.51 L961.78,673.04 L962.94,671.58 L964.10,670.13 L965.27,668.68 L966.43,667.24 L967.60,665.80 L968.76,664.37 L969.92,662.95 L971.09,661.53 L972.25,660.12 L973.42,658.72 L974.58,657.33 L975.74,655.94 L976.91,654.56 L978.07,653.19 L979.24,651.83 L980.40,650.47 L981.56,649.12 L982.73,647.79 L983.89,646.46 L985.06,645.14 L986.22,643.82 L987.38,642.52 L988.55,641.23 L989.71,639.94 L990.88,638.66 L992.04,637.40 L993.20,636.14 L994.37,634.89 L995.53,633.65 L996.70,632.42 L997.86,631.19 L999.02,629.98 L1000.19,628.78 L1001.35,627.58 L1002.52,626.39 L1003.68,625.22 L1004.84,624.05 L1006.01,622.89 L1007.17,621.75 L1008.34,620.61 L1009.50,619.48 L1010.66,618.36 L1011.83,617.25 L1012.99,616.15 L1014.16,615.06 L1015.32,613.97 L1016.48,612.90 L1017.65,611.83 L1018.81,610.77 L1019.98,609.72 L1021.14,608.68 L1022.30,607.64 L1023.47,606.61 L1024.63,605.59 L1025.80,604.57 L1026.96,603.56 L1028.12,602.56 L1029.29,601.56 L1030.45,600.56 L1031.62,599.57 L1032.78,598.59 L1033.94,597.61 L1035.11,596.63 L1036.27,595.66 L1037.44,594.70 L1038.60,593.73 L1039.76,592.77 L1040.93,591.82 L1042.09,590.87 L1043.26,589.92 L1044.42,588.98 L1045.58,588.04 L1046.75,587.11 L1047.91,586.19 L1049.08,585.28 L1050.24,584.37 L1051.40,583.47 L1052.57,582.58 L1053.73,581.70 L1054.90,580.83 L1056.06,579.97 L1057.22,579.13 L1058.39,578.29 L1059.55,577.46 L1060.72,576.65 L1061.88,575.85 L1063.04,575.07 L1064.21,574.29 L1065.37,573.54 L1066.54,572.79 L1067.70,572.06 L1068.86,571.35 L1070.03,570.66 L1071.19,569.98 L1072.36,569.31 L1073.52,568.66 L1074.68,568.02 L1075.85,567.40 L1077.01,566.79 L1078.18,566.20 L1079.34,565.62 L1080.50,565.05 L1081.67,564.50 L1082.83,563.96 L1084.00,563.43 L1085.16,562.91 L1086.32,562.41 L1087.49,561.92 L1088.65,561.43 L1089.82,560.97 L1090.98,560.51 L1092.14,560.06 L1093.31,559.62 L1094.47,559.19 L1095.64,558.77 L1096.80,558.37 L1097.96,557.97 L1099.13,557.58 L1100.29,557.20 L1101.46,556.83 L1102.62,556.46 L1103.78,556.11 L1104.95,555.76 L1106.11,555.42 L1107.28,555.09 L1108.44,554.76 L1109.60,554.44 L1110.77,554.13 L1111.93,553.83 L1113.10,553.53 L1114.26,553.23 L1115.42,552.94 L1116.59,552.66 L1117.75,552.38 L1118.92,552.11 L1120.08,551.84 L1121.24,551.58 L1122.41,551.32 L1123.57,551.06 L1124.74,550.81 L1125.90,550.56 L1127.06,550.32 L1128.23,550.07 L1129.39,549.83 L1130.56,549.60 L1131.72,549.36 L1132.88,549.13 L1134.05,548.90 L1135.21,548.68 L1136.38,548.45 L1137.54,548.23 L1138.70,548.02 L1139.87,547.80 L1141.03,547.59 L1142.20,547.37 L1143.36,547.17 L1144.52,546.96 L1145.69,546.75 L1146.85,546.55 L1148.02,546.35 L1149.18,546.15 L1150.34,545.95 L1151.51,545.76 L1152.67,545.56 L1153.84,545.37 L1155.00,545.18 L1156.16,544.99 L1157.33,544.81 L1158.49,544.62 L1159.66,544.43 L1160.82,544.25 L1161.98,544.07 L1163.15,543.89 L1164.31,543.71 L1165.48,543.53 L1166.64,543.35 L1167.80,543.17 L1168.97,543.00 L1170.13,542.82 L1171.30,542.65 L1172.46,542.48 L1173.62,542.30 L1174.79,542.13 L1175.95,541.96 L1177.12,541.79 L1178.28,541.61 L1179.44,541.44 L1180.61,541.27 L1181.77,541.10 L1182.94,540.93 L1184.10,540.76" stroke-width="5.8"/>
<path d="M138.25,1799.36 L138.71,1795.36 L139.17,1791.51 L139.64,1787.80 L140.10,1784.20 L140.56,1780.68 L141.03,1777.24 L141.49,1773.85 L141.96,1770.51 L142.42,1767.21 L142.88,1763.94 L143.35,1760.70 L143.81,1757.47 L144.27,1754.26 L144.74,1751.07 L145.20,1747.90 L145.66,1744.75 L146.13,1741.62 L146.59,1738.50 L147.05,1735.41 L147.52,1732.33 L147.98,1729.27 L148.45,1726.22 L148.91,1723.20 L149.37,1720.20 L149.84,1717.21 L150.30,1714.25 L150.76,1711.31 L151.23,1708.39 L151.69,1705.50 L152.15,1702.64 L152.62,1699.81 L153.08,1697.00 L153.55,1694.23 L154.01,1691.50 L154.47,1688.80 L154.94,1686.13 L155.40,1683.50 L155.86,1680.92 L156.33,1678.37 L156.79,1675.87 L157.25,1673.41 L157.72,1671.00 L158.18,1668.63 L158.65,1666.31 L159.11,1664.04 L159.57,1661.81 L160.04,1659.63 L160.50,1657.49 L160.96,1655.39 L161.43,1653.34 L161.89,1651.33 L162.35,1649.36 L162.82,1647.43 L163.28,1645.55 L163.75,1643.70 L164.21,1641.88 L164.67,1640.10 L165.14,1638.36 L165.60,1636.64 L166.18,1634.53 L167.28,1630.67 L168.38,1626.96 L169.48,1623.38 L170.57,1619.91 L171.67,1616.54 L172.77,1613.27 L173.87,1610.08 L174.96,1606.96 L176.06,1603.91 L177.16,1600.90 L178.26,1597.95 L179.35,1595.05 L180.45,1592.19 L181.55,1589.37 L182.65,1586.59 L183.75,1583.85 L184.84,1581.15 L185.94,1578.47 L187.04,1575.83 L188.14,1573.22 L189.23,1570.63 L190.33,1568.07 L191.43,1565.53 L192.53,1563.02 L193.62,1560.52 L194.72,1558.05 L195.82,1555.60 L196.92,1553.16 L198.02,1550.75 L199.11,1548.36 L200.21,1545.99 L201.31,1543.63 L202.41,1541.30 L203.50,1538.99 L204.60,1536.69 L205.70,1534.42 L206.80,1532.16 L207.89,1529.92 L208.99,1527.69 L210.09,1525.48 L211.19,1523.29 L212.29,1521.12 L213.38,1518.96 L214.48,1516.81 L215.58,1514.68 L216.68,1512.57 L217.77,1510.47 L218.87,1508.38 L219.97,1506.31 L221.07,1504.25 L222.16,1502.20 L223.26,1500.17 L224.36,1498.15 L225.46,1496.14 L226.56,1494.15 L227.65,1492.17 L228.75,1490.20 L229.85,1488.24 L230.95,1486.29 L232.04,1484.35 L233.14,1482.43 L234.24,1480.51 L235.34,1478.61 L236.43,1476.71 L237.53,1474.83 L238.63,1472.95 L239.73,1471.09 L240.83,1469.23 L241.92,1467.38 L243.02,1465.54 L244.12,1463.71 L245.22,1461.89 L246.31,1460.08 L247.41,1458.27 L248.51,1456.47 L249.61,1454.68 L250.70,1452.90 L251.80,1451.12 L252.90,1449.34 L254.06,1447.47 L255.23,1445.60 L256.39,1443.74 L257.56,1441.88 L258.72,1440.03 L259.88,1438.19 L261.05,1436.35 L262.21,1434.51 L263.38,1432.69 L264.54,1430.86 L265.70,1429.05 L266.87,1427.24 L268.03,1425.43 L269.20,1423.64 L270.36,1421.84 L271.52,1420.06 L272.69,1418.28 L273.85,1416.50 L275.02,1414.73 L276.18,1412.97 L277.34,1411.22 L278.51,1409.47 L279.67,1407.73 L280.84,1405.99 L282.00,1404.26 L283.16,1402.53 L284.33,1400.82 L285.49,1399.11 L286.66,1397.40 L287.82,1395.71 L288.98,1394.02 L290.15,1392.33 L291.31,1390.65 L292.48,1388.98 L293.64,1387.32 L294.80,1385.66 L295.97,1384.01 L297.13,1382.37 L298.30,1380.73 L299.46,1379.11 L300.62,1377.48 L301.79,1375.87 L302.95,1374.26 L304.12,1372.66 L305.28,1371.06 L306.44,1369.47 L307.61,1367.89 L308.77,1366.31 L309.94,1364.74 L311.10,1363.17 L312.26,1361.61 L313.43,1360.06 L314.59,1358.51 L315.76,1356.97 L316.92,1355.44 L318.08,1353.91 L319.25,1352.38 L320.41,1350.86 L321.58,1349.35 L322.74,1347.84 L323.90,1346.34 L325.07,1344.84 L326.23,1343.35 L327.40,1341.86 L328.56,1340.38 L329.72,1338.90 L330.89,1337.43 L332.05,1335.97 L333.22,1334.50 L334.38,1333.05 L335.54,1331.60 L336.71,1330.15 L337.87,1328.71 L339.04,1327.27 L340.20,1325.83 L341.36,1324.40 L342.53,1322.98 L343.69,1321.56 L344.86,1320.14 L346.02,1318.73 L347.18,1317.33 L348.35,1315.92 L349.51,1314.52 L350.68,1313.13 L351.84,1311.74 L353.00,1310.35 L354.17,1308.97 L355.33,1307.59 L356.50,1306.22 L357.66,1304.85 L358.82,1303.48 L359.99,1302.12 L361.15,1300.76 L362.32,1299.40 L363.48,1298.05 L364.64,1296.70 L365.81,1295.36 L366.97,1294.01 L368.14,1292.68 L369.30,1291.34 L370.46,1290.01 L371.63,1288.68 L372.79,1287.36 L373.96,1286.04 L375.12,1284.72 L376.28,1283.40 L377.45,1282.09 L378.61,1280.78 L379.78,1279.47 L380.94,1278.17 L382.10,1276.87 L383.27,1275.57 L384.43,1274.27 L385.60,1272.98 L386.76,1271.69 L387.92,1270.40 L389.09,1269.11 L390.25,1267.83 L391.42,1266.54 L392.58,1265.26 L393.74,1263.98 L394.91,1262.71 L396.07,1261.43 L397.24,1260.16 L398.40,1258.88 L399.56,1257.61 L400.73,1256.34 L401.89,1255.08 L403.06,1253.81 L404.22,1252.55 L405.38,1251.28 L406.55,1250.02 L407.71,1248.76 L408.88,1247.50 L410.04,1246.24 L411.20,1244.98 L412.37,1243.72 L413.53,1242.47 L414.70,1241.21 L415.86,1239.96 L417.02,1238.70 L418.19,1237.45 L419.35,1236.20 L420.52,1234.94 L421.68,1233.69 L422.84,1232.44 L424.01,1231.19 L425.17,1229.94 L426.34,1228.68 L427.50,1227.43 L428.66,1226.18 L429.83,1224.93 L430.99,1223.68 L432.16,1222.43 L433.32,1221.18 L434.48,1219.93 L435.65,1218.68 L436.81,1217.43 L437.98,1216.18 L439.14,1214.93 L440.30,1213.68 L441.47,1212.44 L442.63,1211.19 L443.80,1209.95 L444.96,1208.70 L446.12,1207.46 L447.29,1206.21 L448.45,1204.97 L449.62,1203.73 L450.78,1202.49 L451.94,1201.25 L453.11,1200.01 L454.27,1198.78 L455.44,1197.54 L456.60,1196.31 L457.76,1195.08 L458.93,1193.85 L460.09,1192.62 L461.26,1191.39 L462.42,1190.16 L463.58,1188.94 L464.75,1187.72 L465.91,1186.49 L467.08,1185.27 L468.24,1184.06 L469.40,1182.84 L470.57,1181.63 L471.73,1180.42 L472.90,1179.21 L474.06,1178.00 L475.22,1176.79 L476.39,1175.59 L477.55,1174.39 L478.72,1173.19 L479.88,1171.99 L481.04,1170.80 L482.21,1169.61 L483.37,1168.42 L484.54,1167.23 L485.70,1166.05 L486.86,1164.86 L488.03,1163.68 L489.19,1162.51 L490.36,1161.33 L491.52,1160.16 L492.68,1158.99 L493.85,1157.82 L495.01,1156.66 L496.18,1155.50 L497.34,1154.34 L498.50,1153.18 L499.67,1152.02 L500.83,1150.87 L502.00,1149.71 L503.16,1148.56 L504.32,1147.41 L505.49,1146.27 L506.65,1145.12 L507.82,1143.98 L508.98,1142.84 L510.14,1141.69 L511.31,1140.56 L512.47,1139.42 L513.64,1138.28 L514.80,1137.15 L515.96,1136.01 L517.13,1134.88 L518.29,1133.75 L519.46,1132.62 L520.62,1131.49 L521.78,1130.37 L522.95,1129.24 L524.11,1128.11 L525.28,1126.99 L526.44,1125.87 L527.60,1124.74 L528.77,1123.62 L529.93,1122.50 L531.10,1121.38 L532.26,1120.26 L533.42,1119.14 L534.59,1118.03 L535.75,1116.91 L536.92,1115.79 L538.08,1114.67 L539.24,1113.56 L540.41,1112.44 L541.57,1111.33 L542.74,1110.21 L543.90,1109.10 L545.06,1107.98 L546.23,1106.87 L547.39,1105.75 L548.56,1104.64 L549.72,1103.53 L550.88,1102.41 L552.05,1101.30 L553.21,1100.19 L554.38,1099.08 L555.54,1097.97 L556.70,1096.86 L557.87,1095.75 L559.03,1094.64 L560.20,1093.53 L561.36,1092.43 L562.52,1091.32 L563.69,1090.22 L564.85,1089.12 L566.02,1088.02 L567.18,1086.92 L568.34,1085.82 L569.51,1084.72 L570.67,1083.62 L571.84,1082.53 L573.00,1081.44 L574.16,1080.35 L575.33,1079.26 L576.49,1078.17 L577.66,1077.08 L578.82,1076.00 L579.98,1074.92 L581.15,1073.84 L582.31,1072.76 L583.48,1071.68 L584.64,1070.61 L585.80,1069.54 L586.97,1068.47 L588.13,1067.40 L589.30,1066.34 L590.46,1065.28 L591.62,1064.22 L592.79,1063.16 L593.95,1062.10 L595.12,1061.05 L596.28,1060.00 L597.44,1058.95 L598.61,1057.91 L599.77,1056.87 L600.94,1055.83 L602.10,1054.79 L603.26,1053.76 L604.43,1052.73 L605.59,1051.71 L606.76,1050.68 L607.92,1049.66 L609.08,1048.64 L610.25,1047.63 L611.41,1046.61 L612.58,1045.60 L613.74,1044.60 L614.90,1043.59 L616.07,1042.59 L617.23,1041.59 L618.40,1040.59 L619.56,1039.60 L620.72,1038.61 L621.89,1037.62 L623.05,1036.63 L624.22,1035.65 L625.38,1034.67 L626.54,1033.69 L627.71,1032.71 L628.87,1031.74 L630.04,1030.76 L631.20,1029.79 L632.36,1028.83 L633.53,1027.86 L634.69,1026.90 L635.86,1025.94 L637.02,1024.98 L638.18,1024.02 L639.35,1023.07 L640.51,1022.12 L641.68,1021.17 L642.84,1020.22 L644.00,1019.27 L645.17,1018.33 L646.33,1017.39 L647.50,1016.44 L648.66,1015.51 L649.82,1014.57 L650.99,1013.64 L652.15,1012.70 L653.32,1011.77 L654.48,1010.84 L655.64,1009.91 L656.81,1008.99 L657.97,1008.07 L659.14,1007.14 L660.30,1006.22 L661.46,1005.30 L662.63,1004.39 L663.79,1003.47 L664.96,1002.56 L666.12,1001.64 L667.28,1000.73 L668.45,999.82 L669.61,998.91 L670.78,998.00 L671.94,997.09 L673.10,996.18 L674.27,995.28 L675.43,994.37 L676.60,993.47 L677.76,992.56 L678.92,991.66 L680.09,990.75 L681.25,989.85 L682.42,988.95 L683.58,988.04 L684.74,987.14 L685.91,986.23 L687.07,985.33 L688.24,984.43 L689.40,983.52 L690.56,982.62 L691.73,981.71 L692.89,980.81 L694.06,979.90 L695.22,978.99 L696.38,978.09 L697.55,977.18 L698.71,976.28 L699.88,975.37 L701.04,974.47 L702.20,973.56 L703.37,972.66 L704.53,971.76 L705.70,970.86 L706.86,969.96 L708.02,969.06 L709.19,968.16 L710.35,967.26 L711.52,966.36 L712.68,965.47 L713.84,964.58 L715.01,963.69 L716.17,962.80 L717.34,961.91 L718.50,961.02 L719.66,960.14 L720.83,959.25 L721.99,958.37 L723.16,957.50 L724.32,956.62 L725.48,955.74 L726.65,954.87 L727.81,953.99 L728.98,953.12 L730.14,952.25 L731.30,951.38 L732.47,950.51 L733.63,949.64 L734.80,948.77 L735.96,947.90 L737.12,947.03 L738.29,946.16 L739.45,945.30 L740.62,944.43 L741.78,943.56 L742.94,942.69 L744.11,941.82 L745.27,940.95 L746.44,940.08 L747.60,939.21 L748.76,938.33 L749.93,937.46 L751.09,936.59 L752.26,935.71 L753.42,934.83 L754.58,933.95 L755.75,933.07 L756.91,932.19 L758.08,931.31 L759.24,930.43 L760.40,929.55 L761.57,928.66 L762.73,927.77 L763.90,926.89 L765.06,926.00 L766.22,925.10 L767.39,924.21 L768.55,923.32 L769.72,922.42 L770.88,921.52 L772.04,920.63 L773.21,919.72 L774.37,918.82 L775.54,917.92 L776.70,917.01 L777.86,916.10 L779.03,915.19 L780.19,914.28 L781.36,913.37 L782.52,912.45 L783.68,911.53 L784.85,910.61 L786.01,909.68 L787.18,908.75 L788.34,907.82 L789.50,906.88 L790.67,905.93 L791.83,904.99 L793.00,904.04 L794.16,903.08 L795.32,902.12 L796.49,901.15 L797.65,900.18 L798.82,899.20 L799.98,898.21 L801.14,897.22 L802.31,896.22 L803.47,895.22 L804.64,894.20 L805.80,893.18 L806.96,892.16 L808.13,891.12 L809.29,890.08 L810.46,889.04 L811.62,887.98 L812.78,886.92 L813.95,885.85 L815.11,884.77 L816.28,883.69 L817.44,882.60 L818.60,881.51 L819.77,880.40 L820.93,879.30 L822.10,878.18 L823.26,877.06 L824.42,875.94 L825.59,874.80 L826.75,873.67 L827.92,872.52 L829.08,871.37 L830.24,870.22 L831.41,869.06 L832.57,867.90 L833.74,866.73 L834.90,865.55 L836.06,864.37 L837.23,863.19 L838.39,862.00 L839.56,860.80 L840.72,859.60 L841.88,858.40 L843.05,857.19 L844.21,855.98 L845.38,854.76 L846.54,853.54 L847.70,852.32 L848.87,851.09 L850.03,849.86 L851.20,848.62 L852.36,847.38 L853.52,846.14 L854.69,844.89 L855.85,843.64 L857.02,842.39 L858.18,841.13 L859.34,839.87 L860.51,838.61 L861.67,837.34 L862.84,836.07 L864.00,834.80 L865.16,833.53 L866.33,832.25 L867.49,830.97 L868.66,829.69 L869.82,828.40 L870.98,827.11 L872.15,825.81 L873.31,824.52 L874.48,823.21 L875.64,821.90 L876.80,820.59 L877.97,819.28 L879.13,817.95 L880.30,816.63 L881.46,815.30 L882.62,813.96 L883.79,812.61 L884.95,811.26 L886.12,809.91 L887.28,808.55 L888.44,807.18 L889.61,805.80 L890.77,804.42 L891.94,803.03 L893.10,801.64 L894.26,800.23 L895.43,798.82 L896.59,797.40 L897.76,795.98 L898.92,794.55 L900.08,793.11 L901.25,791.66 L902.41,790.21 L903.58,788.75 L904.74,787.28 L905.90,785.81 L907.07,784.34 L908.23,782.85 L909.40,781.36 L910.56,779.87 L911.72,778.37 L912.89,776.86 L914.05,775.35 L915.22,773.84 L916.38,772.32 L917.54,770.79 L918.71,769.26 L919.87,767.73 L921.04,766.19 L922.20,764.64 L923.36,763.09 L924.53,761.54 L925.69,759.99 L926.86,758.43 L928.02,756.87 L929.18,755.31 L930.35,753.74 L931.51,752.18 L932.68,750.61 L933.84,749.05 L935.00,747.48 L936.17,745.92 L937.33,744.36 L938.50,742.80 L939.66,741.24 L940.82,739.68 L941.99,738.13 L943.15,736.58 L944.32,735.04 L945.48,733.50 L946.64,731.96 L947.81,730.43 L948.97,728.91 L950.14,727.39 L951.30,725.88 L952.46,724.38 L953.63,722.88 L954.79,721.40 L955.96,719.92 L957.12,718.44 L958.28,716.98 L959.45,715.52 L960.61,714.07 L961.78,712.63 L962.94,711.20 L964.10,709.77 L965.27,708.36 L966.43,706.95 L967.60,705.54 L968.76,704.15 L969.92,702.77 L971.09,701.39 L972.25,700.02 L973.42,698.66 L974.58,697.31 L975.74,695.97 L976.91,694.63 L978.07,693.31 L979.24,691.99 L980.40,690.68 L981.56,689.39 L982.73,688.09 L983.89,686.81 L985.06,685.54 L986.22,684.28 L987.38,683.02 L988.55,681.78 L989.71,680.54 L990.88,679.32 L992.04,678.10 L993.20,676.89 L994.37,675.69 L995.53,674.50 L996.70,673.32 L997.86,672.15 L999.02,670.99 L1000.19,669.84 L1001.35,668.70 L1002.52,667.57 L1003.68,666.45 L1004.84,665.34 L1006.01,664.24 L1007.17,663.15 L1008.34,662.07 L1009.50,661.00 L1010.66,659.94 L1011.83,658.89 L1012.99,657.85 L1014.16,656.81 L1015.32,655.79 L1016.48,654.78 L1017.65,653.77 L1018.81,652.78 L1019.98,651.79 L1021.14,650.81 L1022.30,649.84 L1023.47,648.87 L1024.63,647.91 L1025.80,646.96 L1026.96,646.01 L1028.12,645.08 L1029.29,644.14 L1030.45,643.22 L1031.62,642.29 L1032.78,641.38 L1033.94,640.47 L1035.11,639.56 L1036.27,638.66 L1037.44,637.76 L1038.60,636.87 L1039.76,635.98 L1040.93,635.09 L1042.09,634.21 L1043.26,633.33 L1044.42,632.45 L1045.58,631.59 L1046.75,630.72 L1047.91,629.86 L1049.08,629.01 L1050.24,628.16 L1051.40,627.32 L1052.57,626.49 L1053.73,625.66 L1054.90,624.83 L1056.06,624.02 L1057.22,623.21 L1058.39,622.41 L1059.55,621.61 L1060.72,620.83 L1061.88,620.05 L1063.04,619.28 L1064.21,618.51 L1065.37,617.76 L1066.54,617.01 L1067.70,616.28 L1068.86,615.55 L1070.03,614.83 L1071.19,614.12 L1072.36,613.42 L1073.52,612.73 L1074.68,612.05 L1075.85,611.37 L1077.01,610.71 L1078.18,610.05 L1079.34,609.41 L1080.50,608.77 L1081.67,608.14 L1082.83,607.52 L1084.00,606.91 L1085.16,606.31 L1086.32,605.72 L1087.49,605.13 L1088.65,604.56 L1089.82,603.99 L1090.98,603.44 L1092.14,602.89 L1093.31,602.35 L1094.47,601.82 L1095.64,601.30 L1096.80,600.79 L1097.96,600.29 L1099.13,599.80 L1100.29,599.31 L1101.46,598.84 L1102.62,598.37 L1103.78,597.91 L1104.95,597.46 L1106.11,597.02 L1107.28,596.59 L1108.44,596.17 L1109.60,595.75 L1110.77,595.35 L1111.93,594.95 L1113.10,594.57 L1114.26,594.19 L1115.42,593.82 L1116.59,593.46 L1117.75,593.11 L1118.92,592.77 L1120.08,592.43 L1121.24,592.11 L1122.41,591.79 L1123.57,591.49 L1124.74,591.19 L1125.90,590.90 L1127.06,590.62 L1128.23,590.35 L1129.39,590.08 L1130.56,589.83 L1131.72,589.58 L1132.88,589.34 L1134.05,589.11 L1135.21,588.89 L1136.38,588.67 L1137.54,588.46 L1138.70,588.26 L1139.87,588.06 L1141.03,587.87 L1142.20,587.69 L1143.36,587.52 L1144.52,587.35 L1145.69,587.18 L1146.85,587.03 L1148.02,586.87 L1149.18,586.73 L1150.34,586.58 L1151.51,586.45 L1152.67,586.32 L1153.84,586.19 L1155.00,586.07 L1156.16,585.95 L1157.33,585.83 L1158.49,585.72 L1159.66,585.62 L1160.82,585.51 L1161.98,585.42 L1163.15,585.32 L1164.31,585.23 L1165.48,585.14 L1166.64,585.05 L1167.80,584.97 L1168.97,584.89 L1170.13,584.81 L1171.30,584.73 L1172.46,584.65 L1173.62,584.58 L1174.79,584.51 L1175.95,584.44 L1177.12,584.37 L1178.28,584.30 L1179.44,584.23 L1180.61,584.16 L1181.77,584.10 L1182.94,584.03 L1184.10,583.96" stroke-width="1.5"/>
</g>
<g font-family="Liberation Sans, sans-serif" fill="#1a1a1a">
<text x="1064" y="35.9" font-size="30" text-anchor="start" font-weight="normal" textLength="173.88" lengthAdjust="spacingAndGlyphs" stroke="#fff" stroke-width="0.45">Graf 5.8. – 2a</text>
<text x="448.9" y="90.4" font-size="33.9" text-anchor="start" font-weight="bold" textLength="421.26" lengthAdjust="spacingAndGlyphs">Tělesná výška (0 - 18 roků)</text>
<text x="513.42" y="130.4" font-size="33.9" text-anchor="start" font-weight="normal" textLength="291.07" lengthAdjust="spacingAndGlyphs" stroke="#fff" stroke-width="0.45">Height (0 - 18 years)</text>
<text x="551.52" y="170" font-size="34" text-anchor="start" font-weight="normal" textLength="215.4" lengthAdjust="spacingAndGlyphs" stroke="#fff" stroke-width="0.45">Chlapci / Boys</text>
<text x="53.94" y="204.9" font-size="28.4" text-anchor="start" font-weight="normal" textLength="58.59" lengthAdjust="spacingAndGlyphs" stroke="#fff" stroke-width="0.45">(cm)</text>
<text x="1131.12" y="233.1" font-size="29.9" text-anchor="start" font-weight="normal" textLength="109.3" lengthAdjust="spacingAndGlyphs" stroke="#fff" stroke-width="0.45">Percentil</text>
<text x="507.5" y="1974.8" font-size="30.3" text-anchor="start" font-weight="normal" textLength="306.03" lengthAdjust="spacingAndGlyphs" stroke="#fff" stroke-width="0.45">Věk (roky) / Age (years)</text>
<text x="70" y="1878.35" font-size="30.4" text-anchor="start" font-weight="bold" textLength="36.99" lengthAdjust="spacingAndGlyphs">40</text>
<text x="68.87" y="1777.22" font-size="30.4" text-anchor="start" font-weight="bold" textLength="38.14" lengthAdjust="spacingAndGlyphs">50</text>
<text x="68.87" y="1676.09" font-size="30.4" text-anchor="start" font-weight="bold" textLength="38.14" lengthAdjust="spacingAndGlyphs">60</text>
<text x="68.87" y="1574.96" font-size="30.4" text-anchor="start" font-weight="bold" textLength="38.14" lengthAdjust="spacingAndGlyphs">70</text>
<text x="68.87" y="1473.83" font-size="30.4" text-anchor="start" font-weight="bold" textLength="38.14" lengthAdjust="spacingAndGlyphs">80</text>
<text x="68.87" y="1372.7" font-size="30.4" text-anchor="start" font-weight="bold" textLength="38.14" lengthAdjust="spacingAndGlyphs">90</text>
<text x="56.58" y="1271.57" font-size="30.4" text-anchor="start" font-weight="bold" textLength="53.68" lengthAdjust="spacingAndGlyphs">100</text>
<text x="56.49" y="1170.44" font-size="30.4" text-anchor="start" font-weight="bold" textLength="54.15" lengthAdjust="spacingAndGlyphs">110</text>
<text x="56.58" y="1069.31" font-size="30.4" text-anchor="start" font-weight="bold" textLength="53.68" lengthAdjust="spacingAndGlyphs">120</text>
<text x="56.58" y="968.18" font-size="30.4" text-anchor="start" font-weight="bold" textLength="53.68" lengthAdjust="spacingAndGlyphs">130</text>
<text x="56.58" y="867.05" font-size="30.4" text-anchor="start" font-weight="bold" textLength="53.68" lengthAdjust="spacingAndGlyphs">140</text>
<text x="56.58" y="765.92" font-size="30.4" text-anchor="start" font-weight="bold" textLength="53.68" lengthAdjust="spacingAndGlyphs">150</text>
<text x="56.58" y="664.79" font-size="30.4" text-anchor="start" font-weight="bold" textLength="53.68" lengthAdjust="spacingAndGlyphs">160</text>
<text x="56.58" y="563.66" font-size="30.4" text-anchor="start" font-weight="bold" textLength="53.68" lengthAdjust="spacingAndGlyphs">170</text>
<text x="56.58" y="462.53" font-size="30.4" text-anchor="start" font-weight="bold" textLength="53.68" lengthAdjust="spacingAndGlyphs">180</text>
<text x="56.58" y="361.4" font-size="30.4" text-anchor="start" font-weight="bold" textLength="53.68" lengthAdjust="spacingAndGlyphs">190</text>
<text x="54.89" y="260.27" font-size="30.4" text-anchor="start" font-weight="bold" textLength="56.05" lengthAdjust="spacingAndGlyphs">200</text>
<text x="128.13" y="1918.5" font-size="29.5" text-anchor="start" font-weight="bold" textLength="17.19" lengthAdjust="spacingAndGlyphs">0</text>
<text x="185.28" y="1918.5" font-size="29.5" text-anchor="start" font-weight="bold" textLength="17.19" lengthAdjust="spacingAndGlyphs">1</text>
<text x="244.53" y="1918.5" font-size="29.5" text-anchor="start" font-weight="bold" textLength="17.19" lengthAdjust="spacingAndGlyphs">2</text>
<text x="302.73" y="1918.5" font-size="29.5" text-anchor="start" font-weight="bold" textLength="17.19" lengthAdjust="spacingAndGlyphs">3</text>
<text x="360.93" y="1918.5" font-size="29.5" text-anchor="start" font-weight="bold" textLength="17.19" lengthAdjust="spacingAndGlyphs">4</text>
<text x="418.6" y="1918.5" font-size="29.5" text-anchor="start" font-weight="bold" textLength="17.19" lengthAdjust="spacingAndGlyphs">5</text>
<text x="477.33" y="1918.5" font-size="29.5" text-anchor="start" font-weight="bold" textLength="17.19" lengthAdjust="spacingAndGlyphs">6</text>
<text x="535.53" y="1918.5" font-size="29.5" text-anchor="start" font-weight="bold" textLength="17.19" lengthAdjust="spacingAndGlyphs">7</text>
<text x="593.2" y="1918.5" font-size="29.5" text-anchor="start" font-weight="bold" textLength="17.19" lengthAdjust="spacingAndGlyphs">8</text>
<text x="651.93" y="1918.5" font-size="29.5" text-anchor="start" font-weight="bold" textLength="17.19" lengthAdjust="spacingAndGlyphs">9</text>
<text x="700.71" y="1918.5" font-size="29.5" text-anchor="start" font-weight="bold" textLength="34.36" lengthAdjust="spacingAndGlyphs">10</text>
<text x="759.95" y="1918.5" font-size="29.5" text-anchor="start" font-weight="bold" textLength="32.64" lengthAdjust="spacingAndGlyphs">11</text>
<text x="817.11" y="1918.5" font-size="29.5" text-anchor="start" font-weight="bold" textLength="34.36" lengthAdjust="spacingAndGlyphs">12</text>
<text x="875.31" y="1918.5" font-size="29.5" text-anchor="start" font-weight="bold" textLength="34.36" lengthAdjust="spacingAndGlyphs">13</text>
<text x="932.98" y="1918.5" font-size="29.5" text-anchor="start" font-weight="bold" textLength="34.36" lengthAdjust="spacingAndGlyphs">14</text>
<text x="991.71" y="1918.5" font-size="29.5" text-anchor="start" font-weight="bold" textLength="34.36" lengthAdjust="spacingAndGlyphs">15</text>
<text x="1049.91" y="1918.5" font-size="29.5" text-anchor="start" font-weight="bold" textLength="34.36" lengthAdjust="spacingAndGlyphs">16</text>
<text x="1108.11" y="1918.5" font-size="29.5" text-anchor="start" font-weight="bold" textLength="34.36" lengthAdjust="spacingAndGlyphs">17</text>
<text x="1166.31" y="1918.5" font-size="29.5" text-anchor="start" font-weight="bold" textLength="34.36" lengthAdjust="spacingAndGlyphs">18</text>
<text x="1201.87" y="326.95" font-size="29.2" text-anchor="start" font-weight="bold" textLength="36.58" lengthAdjust="spacingAndGlyphs">97</text>
<text x="1201.87" y="370" font-size="29.2" text-anchor="start" font-weight="bold" textLength="36.58" lengthAdjust="spacingAndGlyphs">90</text>
<text x="1201.87" y="410" font-size="29.2" text-anchor="start" font-weight="bold" textLength="36.58" lengthAdjust="spacingAndGlyphs">75</text>
<text x="1201.87" y="459.6" font-size="29.2" text-anchor="start" font-weight="bold" textLength="36.58" lengthAdjust="spacingAndGlyphs">50</text>
<text x="1201.87" y="507.6" font-size="29.2" text-anchor="start" font-weight="bold" textLength="36.58" lengthAdjust="spacingAndGlyphs">25</text>
<text x="1200.75" y="555.6" font-size="29.2" text-anchor="start" font-weight="bold" textLength="36.58" lengthAdjust="spacingAndGlyphs">10</text>
<text x="1201.87" y="599.6" font-size="29.2" text-anchor="start" font-weight="bold" textLength="18.29" lengthAdjust="spacingAndGlyphs">3</text>
</g>
</svg>
</body></html>
